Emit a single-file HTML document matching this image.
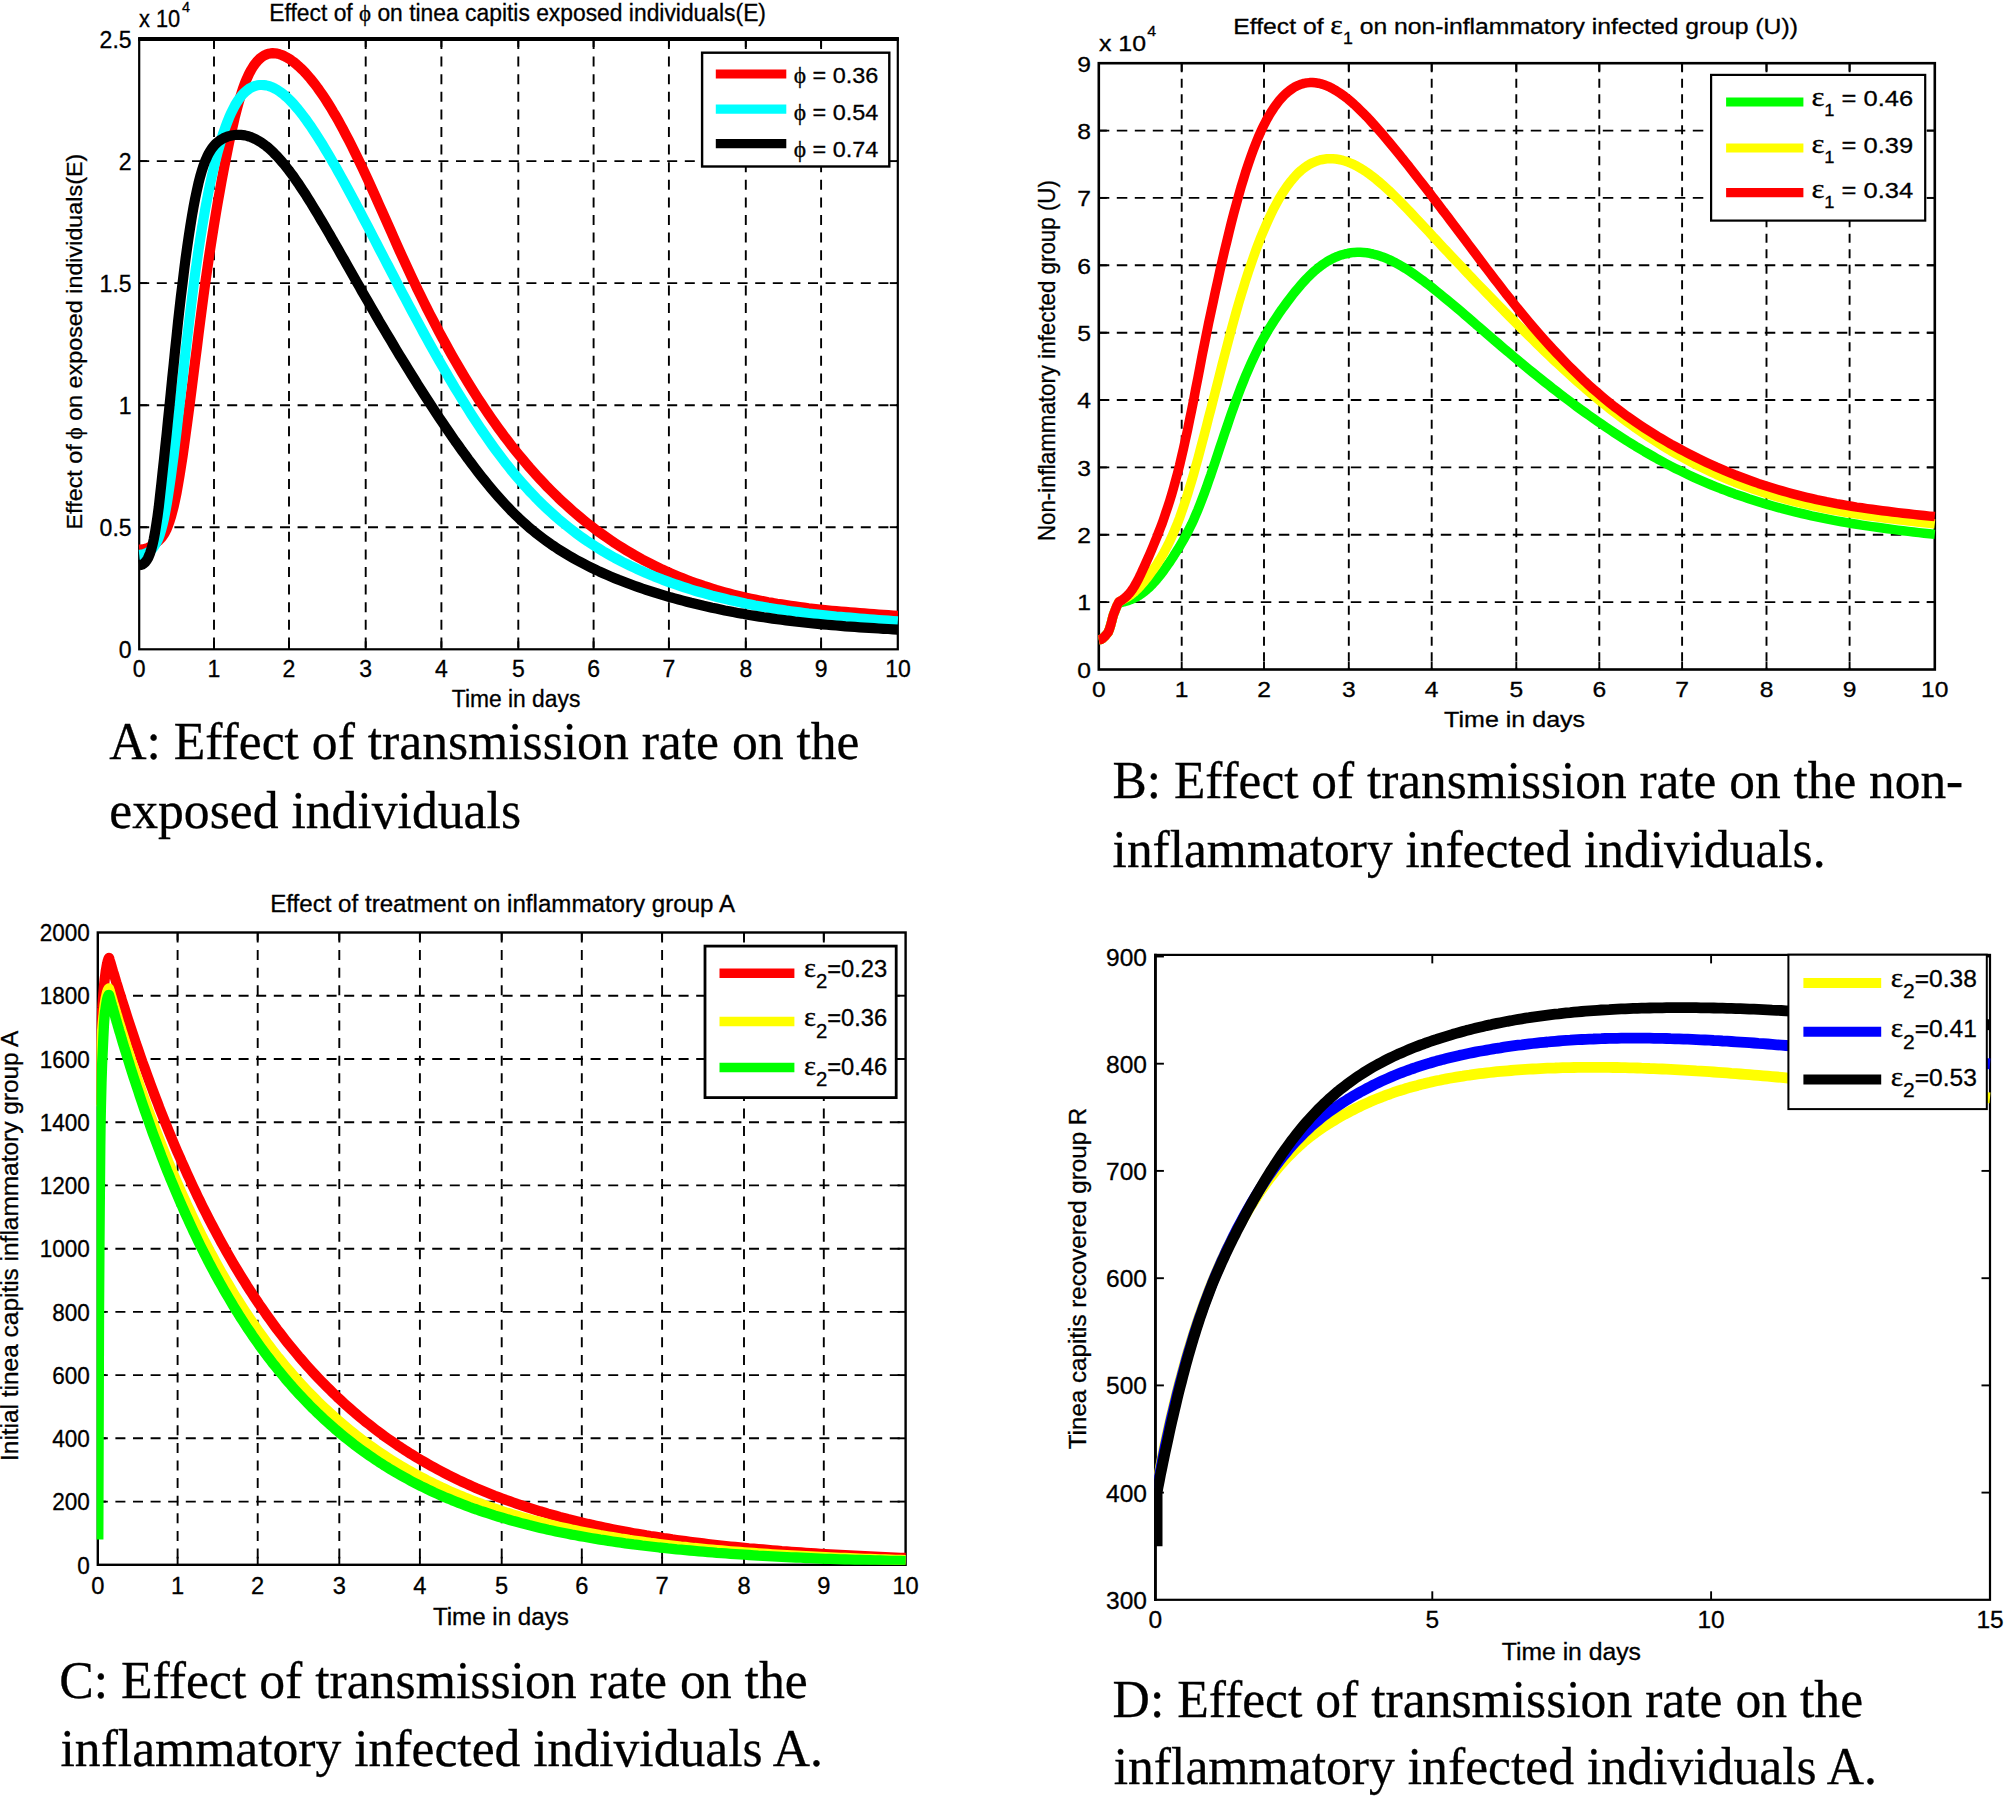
<!DOCTYPE html>
<html lang="en"><head><meta charset="utf-8"><title>Effect of transmission rate - tinea capitis model</title>
<style>html,body{margin:0;padding:0;background:#fff}svg{display:block}text{fill:#000;stroke:#000;stroke-width:.3px}</style></head>
<body>
<svg width="2004" height="1796" viewBox="0 0 2004 1796">
<rect width="2004" height="1796" fill="#fff"/>
<g stroke="#000" stroke-width="1.9" fill="none">
<line x1="214.0" y1="39.0" x2="214.0" y2="649.3" stroke-dasharray="10 7.6"/>
<line x1="289.0" y1="39.0" x2="289.0" y2="649.3" stroke-dasharray="10 7.6"/>
<line x1="365.7" y1="39.0" x2="365.7" y2="649.3" stroke-dasharray="10 7.6"/>
<line x1="441.4" y1="39.0" x2="441.4" y2="649.3" stroke-dasharray="10 7.6"/>
<line x1="518.3" y1="39.0" x2="518.3" y2="649.3" stroke-dasharray="10 7.6"/>
<line x1="593.6" y1="39.0" x2="593.6" y2="649.3" stroke-dasharray="10 7.6"/>
<line x1="668.9" y1="39.0" x2="668.9" y2="649.3" stroke-dasharray="10 7.6"/>
<line x1="745.8" y1="39.0" x2="745.8" y2="649.3" stroke-dasharray="10 7.6"/>
<line x1="821.1" y1="39.0" x2="821.1" y2="649.3" stroke-dasharray="10 7.6"/>
<line x1="139.2" y1="527.2" x2="897.8" y2="527.2" stroke-dasharray="10 7.6"/>
<line x1="139.2" y1="405.2" x2="897.8" y2="405.2" stroke-dasharray="10 7.6"/>
<line x1="139.2" y1="283.1" x2="897.8" y2="283.1" stroke-dasharray="10 7.6"/>
<line x1="139.2" y1="161.1" x2="897.8" y2="161.1" stroke-dasharray="10 7.6"/>
</g>
<g stroke="#000" stroke-width="1.9" fill="none">
<line x1="214.0" y1="649.3" x2="214.0" y2="641.3"/><line x1="214.0" y1="39.0" x2="214.0" y2="47.0"/>
<line x1="289.0" y1="649.3" x2="289.0" y2="641.3"/><line x1="289.0" y1="39.0" x2="289.0" y2="47.0"/>
<line x1="365.7" y1="649.3" x2="365.7" y2="641.3"/><line x1="365.7" y1="39.0" x2="365.7" y2="47.0"/>
<line x1="441.4" y1="649.3" x2="441.4" y2="641.3"/><line x1="441.4" y1="39.0" x2="441.4" y2="47.0"/>
<line x1="518.3" y1="649.3" x2="518.3" y2="641.3"/><line x1="518.3" y1="39.0" x2="518.3" y2="47.0"/>
<line x1="593.6" y1="649.3" x2="593.6" y2="641.3"/><line x1="593.6" y1="39.0" x2="593.6" y2="47.0"/>
<line x1="668.9" y1="649.3" x2="668.9" y2="641.3"/><line x1="668.9" y1="39.0" x2="668.9" y2="47.0"/>
<line x1="745.8" y1="649.3" x2="745.8" y2="641.3"/><line x1="745.8" y1="39.0" x2="745.8" y2="47.0"/>
<line x1="821.1" y1="649.3" x2="821.1" y2="641.3"/><line x1="821.1" y1="39.0" x2="821.1" y2="47.0"/>
<line x1="139.2" y1="527.2" x2="147.2" y2="527.2"/><line x1="897.8" y1="527.2" x2="889.8" y2="527.2"/>
<line x1="139.2" y1="405.2" x2="147.2" y2="405.2"/><line x1="897.8" y1="405.2" x2="889.8" y2="405.2"/>
<line x1="139.2" y1="283.1" x2="147.2" y2="283.1"/><line x1="897.8" y1="283.1" x2="889.8" y2="283.1"/>
<line x1="139.2" y1="161.1" x2="147.2" y2="161.1"/><line x1="897.8" y1="161.1" x2="889.8" y2="161.1"/>
</g>
<rect x="139.2" y="39.0" width="758.6" height="610.3" fill="none" stroke="#000" stroke-width="2.2"/>
<line x1="138.1" y1="39.0" x2="898.9" y2="39.0" stroke="#000" stroke-width="4.0"/>
<clipPath id="clip1"><rect x="138.2" y="39.0" width="760.6" height="610.3"/></clipPath>
<g clip-path="url(#clip1)" fill="none" stroke-width="10.2" stroke-linejoin="round" stroke-linecap="butt">
<path d="M139.2 549.6 L140.2 549.5 L141.3 549.5 L142.3 549.4 L143.4 549.2 L144.5 549.0 L145.6 548.8 L146.7 548.4 L147.9 548.0 L149.0 547.5 L150.2 546.9 L151.4 546.2 L152.6 545.4 L153.8 544.6 L155.0 543.6 L156.2 542.6 L157.5 541.6 L158.8 540.4 L160.0 539.2 L161.3 537.8 L162.6 536.1 L164.0 534.1 L165.3 531.7 L166.7 528.9 L168.0 525.6 L169.4 521.8 L170.8 517.3 L172.2 512.2 L173.7 506.5 L175.1 499.9 L176.6 492.6 L178.0 484.6 L179.5 475.9 L181.0 466.4 L182.6 456.3 L184.1 445.6 L185.6 434.5 L187.2 422.8 L188.8 410.9 L190.4 398.6 L192.0 386.1 L193.6 373.4 L195.2 360.5 L196.9 347.5 L198.5 334.3 L200.2 321.1 L201.9 308.0 L203.6 295.1 L205.3 282.6 L207.1 270.3 L208.8 258.3 L210.6 246.5 L212.4 235.0 L214.2 223.8 L216.0 212.8 L217.8 202.1 L219.7 191.6 L221.5 181.4 L223.4 171.3 L225.3 161.5 L227.2 152.0 L229.1 142.6 L231.0 133.6 L233.0 125.0 L234.9 116.7 L236.9 108.9 L238.9 101.7 L240.9 95.0 L242.9 88.8 L244.9 83.3 L247.0 78.3 L249.0 73.9 L251.1 70.0 L253.2 66.5 L255.3 63.6 L257.4 61.0 L259.6 58.8 L261.7 57.1 L263.9 55.6 L266.1 54.6 L268.3 53.8 L270.5 53.4 L272.7 53.2 L274.9 53.3 L277.2 53.6 L279.4 54.2 L281.7 55.0 L284.0 56.0 L286.3 57.2 L288.7 58.6 L291.0 60.1 L293.4 61.8 L295.7 63.7 L298.1 65.8 L300.5 68.0 L302.9 70.3 L305.4 72.9 L307.8 75.6 L310.3 78.5 L312.7 81.5 L315.2 84.7 L317.7 88.0 L320.2 91.6 L322.8 95.2 L325.3 99.1 L327.9 103.1 L330.5 107.2 L333.0 111.6 L335.7 116.0 L338.3 120.6 L340.9 125.4 L343.6 130.3 L346.2 135.3 L348.9 140.4 L351.6 145.7 L354.3 151.2 L357.0 156.7 L359.8 162.4 L362.5 168.2 L365.3 174.2 L368.1 180.2 L370.9 186.4 L373.7 192.6 L376.5 198.9 L379.3 205.3 L382.2 211.7 L385.1 218.2 L388.0 224.7 L390.9 231.2 L393.8 237.8 L396.7 244.3 L399.6 250.9 L402.6 257.4 L405.6 263.9 L408.6 270.3 L411.6 276.8 L414.6 283.1 L417.6 289.5 L420.7 295.7 L423.7 301.9 L426.8 308.1 L429.9 314.2 L433.0 320.2 L436.1 326.2 L439.2 332.1 L442.4 338.0 L445.6 343.8 L448.7 349.5 L451.9 355.2 L455.1 360.8 L458.4 366.4 L461.6 371.9 L464.9 377.3 L468.1 382.7 L471.4 388.0 L474.7 393.2 L478.0 398.4 L481.3 403.4 L484.7 408.5 L488.0 413.4 L491.4 418.3 L494.8 423.2 L498.2 427.9 L501.6 432.6 L505.0 437.2 L508.5 441.7 L511.9 446.2 L515.4 450.6 L518.9 454.9 L522.4 459.1 L525.9 463.3 L529.4 467.4 L533.0 471.4 L536.5 475.4 L540.1 479.3 L543.7 483.1 L547.3 486.9 L550.9 490.5 L554.6 494.1 L558.2 497.7 L561.9 501.2 L565.6 504.6 L569.3 507.9 L573.0 511.2 L576.7 514.4 L580.4 517.5 L584.2 520.6 L587.9 523.6 L591.7 526.6 L595.5 529.5 L599.3 532.3 L603.2 535.0 L607.0 537.7 L610.9 540.4 L614.7 543.0 L618.6 545.5 L622.5 547.9 L626.4 550.3 L630.4 552.7 L634.3 555.0 L638.3 557.2 L642.2 559.4 L646.2 561.5 L650.2 563.6 L654.2 565.6 L658.3 567.6 L662.3 569.5 L666.4 571.3 L670.4 573.2 L674.5 574.9 L678.6 576.6 L682.8 578.3 L686.9 579.9 L691.0 581.5 L695.2 583.0 L699.4 584.4 L703.6 585.9 L707.8 587.2 L712.0 588.6 L716.2 589.9 L720.5 591.1 L724.8 592.3 L729.1 593.5 L733.3 594.6 L737.7 595.7 L742.0 596.7 L746.3 597.7 L750.7 598.7 L755.0 599.6 L759.4 600.5 L763.8 601.3 L768.2 602.2 L772.7 602.9 L777.1 603.7 L781.6 604.4 L786.0 605.1 L790.5 605.8 L795.0 606.4 L799.6 607.0 L804.1 607.6 L808.6 608.2 L813.2 608.7 L817.8 609.2 L822.4 609.7 L827.0 610.2 L831.6 610.7 L836.2 611.1 L840.9 611.5 L845.5 611.9 L850.2 612.3 L854.9 612.7 L859.6 613.1 L864.3 613.4 L869.1 613.8 L873.8 614.1 L878.6 614.5 L883.4 614.8 L888.2 615.1 L893.0 615.5 L897.8 615.8" stroke="#ff0000"/>
<path d="M139.2 554.8 L140.2 554.7 L141.3 554.6 L142.3 554.4 L143.4 554.2 L144.5 553.9 L145.6 553.5 L146.7 553.1 L147.9 552.4 L149.0 551.7 L150.2 550.8 L151.4 549.7 L152.6 548.4 L153.8 546.8 L155.0 545.0 L156.2 543.0 L157.5 540.5 L158.8 537.4 L160.0 533.8 L161.3 529.5 L162.6 524.4 L164.0 518.5 L165.3 511.8 L166.7 504.2 L168.0 495.9 L169.4 486.8 L170.8 477.0 L172.2 466.4 L173.7 455.1 L175.1 443.2 L176.6 430.8 L178.0 418.0 L179.5 405.0 L181.0 391.7 L182.6 378.3 L184.1 364.8 L185.6 351.3 L187.2 337.8 L188.8 324.4 L190.4 311.1 L192.0 298.1 L193.6 285.4 L195.2 273.2 L196.9 261.4 L198.5 250.0 L200.2 239.0 L201.9 228.4 L203.6 218.3 L205.3 208.5 L207.1 199.2 L208.8 190.3 L210.6 181.7 L212.4 173.6 L214.2 165.9 L216.0 158.5 L217.8 151.5 L219.7 145.0 L221.5 138.8 L223.4 132.9 L225.3 127.5 L227.2 122.4 L229.1 117.6 L231.0 113.2 L233.0 109.2 L234.9 105.5 L236.9 102.2 L238.9 99.2 L240.9 96.5 L242.9 94.1 L244.9 92.1 L247.0 90.3 L249.0 88.8 L251.1 87.6 L253.2 86.6 L255.3 85.9 L257.4 85.3 L259.6 85.0 L261.7 85.0 L263.9 85.1 L266.1 85.4 L268.3 85.9 L270.5 86.6 L272.7 87.5 L274.9 88.6 L277.2 89.9 L279.4 91.4 L281.7 93.0 L284.0 94.8 L286.3 96.8 L288.7 99.0 L291.0 101.4 L293.4 103.9 L295.7 106.6 L298.1 109.4 L300.5 112.4 L302.9 115.5 L305.4 118.8 L307.8 122.2 L310.3 125.7 L312.7 129.3 L315.2 133.1 L317.7 137.0 L320.2 141.0 L322.8 145.1 L325.3 149.3 L327.9 153.6 L330.5 158.0 L333.0 162.4 L335.7 167.0 L338.3 171.7 L340.9 176.4 L343.6 181.2 L346.2 186.0 L348.9 191.0 L351.6 196.0 L354.3 201.0 L357.0 206.2 L359.8 211.3 L362.5 216.6 L365.3 221.9 L368.1 227.2 L370.9 232.6 L373.7 238.0 L376.5 243.4 L379.3 248.9 L382.2 254.4 L385.1 260.0 L388.0 265.5 L390.9 271.1 L393.8 276.7 L396.7 282.3 L399.6 287.9 L402.6 293.6 L405.6 299.2 L408.6 304.8 L411.6 310.5 L414.6 316.1 L417.6 321.7 L420.7 327.4 L423.7 333.0 L426.8 338.6 L429.9 344.2 L433.0 349.7 L436.1 355.3 L439.2 360.8 L442.4 366.3 L445.6 371.8 L448.7 377.3 L451.9 382.7 L455.1 388.1 L458.4 393.4 L461.6 398.7 L464.9 404.0 L468.1 409.2 L471.4 414.4 L474.7 419.5 L478.0 424.5 L481.3 429.5 L484.7 434.4 L488.0 439.2 L491.4 444.0 L494.8 448.7 L498.2 453.3 L501.6 457.8 L505.0 462.3 L508.5 466.7 L511.9 471.0 L515.4 475.2 L518.9 479.3 L522.4 483.3 L525.9 487.2 L529.4 491.1 L533.0 494.8 L536.5 498.5 L540.1 502.1 L543.7 505.6 L547.3 509.0 L550.9 512.3 L554.6 515.6 L558.2 518.8 L561.9 521.9 L565.6 524.9 L569.3 527.9 L573.0 530.8 L576.7 533.6 L580.4 536.3 L584.2 539.0 L587.9 541.6 L591.7 544.1 L595.5 546.5 L599.3 548.9 L603.2 551.3 L607.0 553.5 L610.9 555.7 L614.7 557.9 L618.6 559.9 L622.5 562.0 L626.4 563.9 L630.4 565.9 L634.3 567.7 L638.3 569.6 L642.2 571.3 L646.2 573.1 L650.2 574.7 L654.2 576.4 L658.3 578.0 L662.3 579.6 L666.4 581.1 L670.4 582.6 L674.5 584.0 L678.6 585.4 L682.8 586.8 L686.9 588.2 L691.0 589.5 L695.2 590.8 L699.4 592.0 L703.6 593.2 L707.8 594.4 L712.0 595.6 L716.2 596.7 L720.5 597.8 L724.8 598.8 L729.1 599.9 L733.3 600.8 L737.7 601.8 L742.0 602.7 L746.3 603.7 L750.7 604.5 L755.0 605.4 L759.4 606.2 L763.8 607.0 L768.2 607.8 L772.7 608.5 L777.1 609.2 L781.6 609.9 L786.0 610.6 L790.5 611.2 L795.0 611.8 L799.6 612.4 L804.1 613.0 L808.6 613.6 L813.2 614.1 L817.8 614.6 L822.4 615.1 L827.0 615.6 L831.6 616.0 L836.2 616.5 L840.9 616.9 L845.5 617.3 L850.2 617.7 L854.9 618.1 L859.6 618.5 L864.3 618.9 L869.1 619.3 L873.8 619.6 L878.6 620.0 L883.4 620.3 L888.2 620.7 L893.0 621.0 L897.8 621.3" stroke="#00ffff"/>
<path d="M139.2 565.3 L140.2 565.1 L141.3 564.8 L142.3 564.4 L143.4 563.8 L144.5 562.9 L145.6 561.8 L146.7 560.3 L147.9 558.4 L149.0 555.9 L150.2 552.8 L151.4 549.0 L152.6 544.5 L153.8 539.0 L155.0 532.5 L156.2 525.0 L157.5 516.4 L158.8 506.7 L160.0 495.9 L161.3 484.2 L162.6 472.0 L164.0 459.3 L165.3 446.5 L166.7 433.5 L168.0 420.2 L169.4 406.7 L170.8 392.8 L172.2 378.6 L173.7 364.3 L175.1 350.0 L176.6 336.0 L178.0 322.2 L179.5 308.7 L181.0 295.6 L182.6 282.8 L184.1 270.4 L185.6 258.5 L187.2 247.0 L188.8 236.0 L190.4 225.6 L192.0 215.8 L193.6 206.7 L195.2 198.2 L196.9 190.3 L198.5 183.1 L200.2 176.5 L201.9 170.6 L203.6 165.4 L205.3 160.8 L207.1 156.8 L208.8 153.3 L210.6 150.3 L212.4 147.7 L214.2 145.5 L216.0 143.6 L217.8 142.0 L219.7 140.6 L221.5 139.4 L223.4 138.3 L225.3 137.5 L227.2 136.7 L229.1 136.1 L231.0 135.6 L233.0 135.3 L234.9 135.0 L236.9 134.8 L238.9 134.8 L240.9 134.9 L242.9 135.1 L244.9 135.4 L247.0 135.9 L249.0 136.5 L251.1 137.2 L253.2 138.1 L255.3 139.1 L257.4 140.2 L259.6 141.4 L261.7 142.8 L263.9 144.4 L266.1 146.0 L268.3 147.8 L270.5 149.8 L272.7 151.8 L274.9 154.1 L277.2 156.4 L279.4 158.9 L281.7 161.5 L284.0 164.2 L286.3 167.1 L288.7 170.1 L291.0 173.2 L293.4 176.4 L295.7 179.8 L298.1 183.2 L300.5 186.8 L302.9 190.5 L305.4 194.2 L307.8 198.1 L310.3 202.0 L312.7 206.0 L315.2 210.1 L317.7 214.2 L320.2 218.5 L322.8 222.7 L325.3 227.1 L327.9 231.5 L330.5 235.9 L333.0 240.4 L335.7 245.0 L338.3 249.6 L340.9 254.2 L343.6 258.8 L346.2 263.5 L348.9 268.2 L351.6 273.0 L354.3 277.8 L357.0 282.5 L359.8 287.3 L362.5 292.2 L365.3 297.0 L368.1 301.8 L370.9 306.7 L373.7 311.5 L376.5 316.4 L379.3 321.3 L382.2 326.1 L385.1 331.0 L388.0 335.9 L390.9 340.7 L393.8 345.6 L396.7 350.5 L399.6 355.3 L402.6 360.2 L405.6 365.0 L408.6 369.9 L411.6 374.7 L414.6 379.5 L417.6 384.4 L420.7 389.2 L423.7 393.9 L426.8 398.7 L429.9 403.5 L433.0 408.2 L436.1 413.0 L439.2 417.7 L442.4 422.4 L445.6 427.1 L448.7 431.7 L451.9 436.3 L455.1 441.0 L458.4 445.5 L461.6 450.1 L464.9 454.5 L468.1 459.0 L471.4 463.4 L474.7 467.8 L478.0 472.1 L481.3 476.3 L484.7 480.5 L488.0 484.6 L491.4 488.7 L494.8 492.7 L498.2 496.6 L501.6 500.4 L505.0 504.1 L508.5 507.8 L511.9 511.4 L515.4 514.8 L518.9 518.2 L522.4 521.4 L525.9 524.6 L529.4 527.7 L533.0 530.6 L536.5 533.5 L540.1 536.3 L543.7 539.0 L547.3 541.6 L550.9 544.2 L554.6 546.6 L558.2 549.1 L561.9 551.4 L565.6 553.7 L569.3 555.9 L573.0 558.0 L576.7 560.1 L580.4 562.1 L584.2 564.1 L587.9 566.0 L591.7 567.9 L595.5 569.7 L599.3 571.5 L603.2 573.2 L607.0 574.9 L610.9 576.6 L614.7 578.2 L618.6 579.8 L622.5 581.3 L626.4 582.8 L630.4 584.3 L634.3 585.7 L638.3 587.1 L642.2 588.5 L646.2 589.8 L650.2 591.1 L654.2 592.4 L658.3 593.7 L662.3 594.9 L666.4 596.1 L670.4 597.3 L674.5 598.4 L678.6 599.5 L682.8 600.6 L686.9 601.7 L691.0 602.8 L695.2 603.8 L699.4 604.8 L703.6 605.8 L707.8 606.7 L712.0 607.7 L716.2 608.6 L720.5 609.5 L724.8 610.4 L729.1 611.2 L733.3 612.1 L737.7 612.9 L742.0 613.6 L746.3 614.4 L750.7 615.2 L755.0 615.9 L759.4 616.6 L763.8 617.3 L768.2 617.9 L772.7 618.6 L777.1 619.2 L781.6 619.8 L786.0 620.4 L790.5 620.9 L795.0 621.5 L799.6 622.0 L804.1 622.5 L808.6 623.0 L813.2 623.5 L817.8 623.9 L822.4 624.3 L827.0 624.8 L831.6 625.2 L836.2 625.5 L840.9 625.9 L845.5 626.3 L850.2 626.6 L854.9 626.9 L859.6 627.3 L864.3 627.6 L869.1 627.9 L873.8 628.2 L878.6 628.5 L883.4 628.8 L888.2 629.0 L893.0 629.3 L897.8 629.6" stroke="#000000"/>
</g>
<text transform="translate(139.2 677.1) scale(1.0 1)" text-anchor="middle" font-family='"Liberation Sans", Arial, Helvetica, sans-serif' font-size="23">0</text>
<text transform="translate(214.0 677.1) scale(1.0 1)" text-anchor="middle" font-family='"Liberation Sans", Arial, Helvetica, sans-serif' font-size="23">1</text>
<text transform="translate(289.0 677.1) scale(1.0 1)" text-anchor="middle" font-family='"Liberation Sans", Arial, Helvetica, sans-serif' font-size="23">2</text>
<text transform="translate(365.7 677.1) scale(1.0 1)" text-anchor="middle" font-family='"Liberation Sans", Arial, Helvetica, sans-serif' font-size="23">3</text>
<text transform="translate(441.4 677.1) scale(1.0 1)" text-anchor="middle" font-family='"Liberation Sans", Arial, Helvetica, sans-serif' font-size="23">4</text>
<text transform="translate(518.3 677.1) scale(1.0 1)" text-anchor="middle" font-family='"Liberation Sans", Arial, Helvetica, sans-serif' font-size="23">5</text>
<text transform="translate(593.6 677.1) scale(1.0 1)" text-anchor="middle" font-family='"Liberation Sans", Arial, Helvetica, sans-serif' font-size="23">6</text>
<text transform="translate(668.9 677.1) scale(1.0 1)" text-anchor="middle" font-family='"Liberation Sans", Arial, Helvetica, sans-serif' font-size="23">7</text>
<text transform="translate(745.8 677.1) scale(1.0 1)" text-anchor="middle" font-family='"Liberation Sans", Arial, Helvetica, sans-serif' font-size="23">8</text>
<text transform="translate(821.1 677.1) scale(1.0 1)" text-anchor="middle" font-family='"Liberation Sans", Arial, Helvetica, sans-serif' font-size="23">9</text>
<text transform="translate(898.0 677.1) scale(1.0 1)" text-anchor="middle" font-family='"Liberation Sans", Arial, Helvetica, sans-serif' font-size="23">10</text>
<text transform="translate(131.6 658.0) scale(1.0 1)" text-anchor="end" font-family='"Liberation Sans", Arial, Helvetica, sans-serif' font-size="23">0</text>
<text transform="translate(131.6 535.9) scale(1.0 1)" text-anchor="end" font-family='"Liberation Sans", Arial, Helvetica, sans-serif' font-size="23">0.5</text>
<text transform="translate(131.6 413.9) scale(1.0 1)" text-anchor="end" font-family='"Liberation Sans", Arial, Helvetica, sans-serif' font-size="23">1</text>
<text transform="translate(131.6 291.8) scale(1.0 1)" text-anchor="end" font-family='"Liberation Sans", Arial, Helvetica, sans-serif' font-size="23">1.5</text>
<text transform="translate(131.6 169.8) scale(1.0 1)" text-anchor="end" font-family='"Liberation Sans", Arial, Helvetica, sans-serif' font-size="23">2</text>
<text transform="translate(131.6 47.7) scale(1.0 1)" text-anchor="end" font-family='"Liberation Sans", Arial, Helvetica, sans-serif' font-size="23">2.5</text>
<text x="269.3" y="20.6" font-family='"Liberation Sans", Arial, Helvetica, sans-serif' font-size="23" textLength="496.7" lengthAdjust="spacingAndGlyphs">Effect of <tspan font-family='"Liberation Serif", "Times New Roman", serif'>&#981;</tspan> on tinea capitis exposed individuals(E)</text>
<text x="139.0" y="26.9" font-family='"Liberation Sans", Arial, Helvetica, sans-serif' font-size="23" textLength="41.2" lengthAdjust="spacingAndGlyphs">x 10</text>
<text x="181.9" y="12.0" font-family='"Liberation Sans", Arial, Helvetica, sans-serif' font-size="14.5">4</text>
<text x="451.8" y="706.7" font-family='"Liberation Sans", Arial, Helvetica, sans-serif' font-size="23" textLength="128.5" lengthAdjust="spacingAndGlyphs">Time in days</text>
<text transform="translate(82.0 341.6) rotate(-90)" font-family='"Liberation Sans", Arial, Helvetica, sans-serif' font-size="22.8" text-anchor="middle" textLength="375.7" lengthAdjust="spacingAndGlyphs">Effect of&#8201;<tspan font-family='"Liberation Serif", "Times New Roman", serif'>&#981;</tspan> on exposed individuals(E)</text>
<rect x="702.1" y="52.7" width="187.2" height="113.8" fill="#fff" stroke="#000" stroke-width="2.4"/>
<line x1="715.8" y1="74.0" x2="786.3" y2="74.0" stroke="#ff0000" stroke-width="9.2"/>
<text x="793.7" y="83.2" font-family='"Liberation Sans", Arial, Helvetica, sans-serif' font-size="22.5" textLength="84.6" lengthAdjust="spacingAndGlyphs"><tspan font-family='"Liberation Serif", "Times New Roman", serif'>&#981;</tspan> = 0.36</text>
<line x1="715.8" y1="109.2" x2="786.3" y2="109.2" stroke="#00ffff" stroke-width="9.2"/>
<text x="793.7" y="120.0" font-family='"Liberation Sans", Arial, Helvetica, sans-serif' font-size="22.5" textLength="84.6" lengthAdjust="spacingAndGlyphs"><tspan font-family='"Liberation Serif", "Times New Roman", serif'>&#981;</tspan> = 0.54</text>
<line x1="715.8" y1="143.6" x2="786.3" y2="143.6" stroke="#000000" stroke-width="9.2"/>
<text x="793.7" y="156.8" font-family='"Liberation Sans", Arial, Helvetica, sans-serif' font-size="22.5" textLength="84.6" lengthAdjust="spacingAndGlyphs"><tspan font-family='"Liberation Serif", "Times New Roman", serif'>&#981;</tspan> = 0.74</text>
<g stroke="#000" stroke-width="1.9" fill="none">
<line x1="1181.7" y1="63.2" x2="1181.7" y2="669.5" stroke-dasharray="9 6.5"/>
<line x1="1264.0" y1="63.2" x2="1264.0" y2="669.5" stroke-dasharray="9 6.5"/>
<line x1="1348.8" y1="63.2" x2="1348.8" y2="669.5" stroke-dasharray="9 6.5"/>
<line x1="1431.7" y1="63.2" x2="1431.7" y2="669.5" stroke-dasharray="9 6.5"/>
<line x1="1516.3" y1="63.2" x2="1516.3" y2="669.5" stroke-dasharray="9 6.5"/>
<line x1="1599.3" y1="63.2" x2="1599.3" y2="669.5" stroke-dasharray="9 6.5"/>
<line x1="1682.1" y1="63.2" x2="1682.1" y2="669.5" stroke-dasharray="9 6.5"/>
<line x1="1766.5" y1="63.2" x2="1766.5" y2="669.5" stroke-dasharray="9 6.5"/>
<line x1="1849.6" y1="63.2" x2="1849.6" y2="669.5" stroke-dasharray="9 6.5"/>
<line x1="1098.8" y1="602.1" x2="1934.8" y2="602.1" stroke-dasharray="10.5 7.5"/>
<line x1="1098.8" y1="534.8" x2="1934.8" y2="534.8" stroke-dasharray="10.5 7.5"/>
<line x1="1098.8" y1="467.4" x2="1934.8" y2="467.4" stroke-dasharray="10.5 7.5"/>
<line x1="1098.8" y1="400.0" x2="1934.8" y2="400.0" stroke-dasharray="10.5 7.5"/>
<line x1="1098.8" y1="332.7" x2="1934.8" y2="332.7" stroke-dasharray="10.5 7.5"/>
<line x1="1098.8" y1="265.3" x2="1934.8" y2="265.3" stroke-dasharray="10.5 7.5"/>
<line x1="1098.8" y1="197.9" x2="1934.8" y2="197.9" stroke-dasharray="10.5 7.5"/>
<line x1="1098.8" y1="130.6" x2="1934.8" y2="130.6" stroke-dasharray="10.5 7.5"/>
</g>
<g stroke="#000" stroke-width="1.9" fill="none">
<line x1="1181.7" y1="669.5" x2="1181.7" y2="661.5"/><line x1="1181.7" y1="63.2" x2="1181.7" y2="71.2"/>
<line x1="1264.0" y1="669.5" x2="1264.0" y2="661.5"/><line x1="1264.0" y1="63.2" x2="1264.0" y2="71.2"/>
<line x1="1348.8" y1="669.5" x2="1348.8" y2="661.5"/><line x1="1348.8" y1="63.2" x2="1348.8" y2="71.2"/>
<line x1="1431.7" y1="669.5" x2="1431.7" y2="661.5"/><line x1="1431.7" y1="63.2" x2="1431.7" y2="71.2"/>
<line x1="1516.3" y1="669.5" x2="1516.3" y2="661.5"/><line x1="1516.3" y1="63.2" x2="1516.3" y2="71.2"/>
<line x1="1599.3" y1="669.5" x2="1599.3" y2="661.5"/><line x1="1599.3" y1="63.2" x2="1599.3" y2="71.2"/>
<line x1="1682.1" y1="669.5" x2="1682.1" y2="661.5"/><line x1="1682.1" y1="63.2" x2="1682.1" y2="71.2"/>
<line x1="1766.5" y1="669.5" x2="1766.5" y2="661.5"/><line x1="1766.5" y1="63.2" x2="1766.5" y2="71.2"/>
<line x1="1849.6" y1="669.5" x2="1849.6" y2="661.5"/><line x1="1849.6" y1="63.2" x2="1849.6" y2="71.2"/>
<line x1="1098.8" y1="602.1" x2="1106.8" y2="602.1"/><line x1="1934.8" y1="602.1" x2="1926.8" y2="602.1"/>
<line x1="1098.8" y1="534.8" x2="1106.8" y2="534.8"/><line x1="1934.8" y1="534.8" x2="1926.8" y2="534.8"/>
<line x1="1098.8" y1="467.4" x2="1106.8" y2="467.4"/><line x1="1934.8" y1="467.4" x2="1926.8" y2="467.4"/>
<line x1="1098.8" y1="400.0" x2="1106.8" y2="400.0"/><line x1="1934.8" y1="400.0" x2="1926.8" y2="400.0"/>
<line x1="1098.8" y1="332.7" x2="1106.8" y2="332.7"/><line x1="1934.8" y1="332.7" x2="1926.8" y2="332.7"/>
<line x1="1098.8" y1="265.3" x2="1106.8" y2="265.3"/><line x1="1934.8" y1="265.3" x2="1926.8" y2="265.3"/>
<line x1="1098.8" y1="197.9" x2="1106.8" y2="197.9"/><line x1="1934.8" y1="197.9" x2="1926.8" y2="197.9"/>
<line x1="1098.8" y1="130.6" x2="1106.8" y2="130.6"/><line x1="1934.8" y1="130.6" x2="1926.8" y2="130.6"/>
</g>
<rect x="1098.8" y="63.2" width="836.0" height="606.3" fill="none" stroke="#000" stroke-width="2.6"/>
<clipPath id="clip2"><rect x="1097.8" y="63.2" width="839.0" height="606.3"/></clipPath>
<g clip-path="url(#clip2)" fill="none" stroke-width="9.5" stroke-linejoin="round" stroke-linecap="butt">
<path d="M1098.8 639.9 L1099.9 639.7 L1099.9 639.7 L1100.9 639.4 L1101.1 639.3 L1102.0 638.8 L1102.3 638.6 L1103.1 638.0 L1103.4 637.6 L1104.2 637.0 L1104.7 636.5 L1105.2 635.9 L1105.9 635.1 L1106.3 634.6 L1107.1 633.6 L1107.4 633.3 L1108.4 631.9 L1108.4 631.7 L1109.5 629.0 L1109.6 628.7 L1110.6 625.4 L1110.9 624.2 L1111.7 621.3 L1112.2 619.2 L1112.7 617.3 L1113.5 614.6 L1113.8 613.8 L1114.9 611.1 L1114.9 611.1 L1115.9 608.5 L1116.2 607.9 L1117.0 606.1 L1117.6 605.0 L1118.1 604.1 L1118.9 603.1 L1119.2 602.9 L1120.2 602.7 L1120.3 602.7 L1121.3 602.4 L1121.8 602.3 L1122.4 602.2 L1123.2 602.0 L1123.5 601.9 L1124.5 601.6 L1124.6 601.6 L1125.6 601.3 L1126.1 601.2 L1126.7 601.0 L1127.6 600.7 L1127.7 600.6 L1128.8 600.3 L1129.1 600.2 L1129.9 599.9 L1130.6 599.6 L1131.0 599.5 L1132.0 599.0 L1132.1 599.0 L1133.1 598.6 L1133.6 598.3 L1134.2 598.1 L1135.2 597.6 L1135.2 597.5 L1136.3 597.0 L1136.8 596.7 L1137.4 596.4 L1138.4 595.8 L1138.5 595.7 L1139.5 595.1 L1140.0 594.8 L1140.6 594.4 L1141.6 593.7 L1143.2 592.5 L1144.9 591.2 L1146.6 589.8 L1148.3 588.3 L1150.0 586.7 L1151.7 585.0 L1153.4 583.1 L1155.2 581.2 L1157.0 579.1 L1158.7 577.0 L1160.5 574.7 L1162.4 572.3 L1164.2 569.9 L1166.0 567.3 L1167.9 564.6 L1169.8 561.9 L1171.7 559.0 L1173.6 556.1 L1175.5 553.0 L1177.5 549.9 L1179.5 546.7 L1181.4 543.3 L1183.4 539.9 L1185.4 536.2 L1187.5 532.4 L1189.5 528.4 L1191.6 524.2 L1193.7 519.7 L1195.7 514.9 L1197.9 509.8 L1200.0 504.5 L1202.1 499.0 L1204.3 493.2 L1206.5 487.2 L1208.6 481.0 L1210.9 474.6 L1213.1 468.0 L1215.3 461.4 L1217.6 454.6 L1219.8 447.8 L1222.1 440.9 L1224.4 434.0 L1226.8 427.1 L1229.1 420.3 L1231.4 413.5 L1233.8 406.8 L1236.2 400.1 L1238.6 393.6 L1241.0 387.3 L1243.5 381.1 L1245.9 375.1 L1248.4 369.3 L1250.9 363.6 L1253.4 358.2 L1255.9 353.0 L1258.4 347.9 L1260.9 343.0 L1263.5 338.4 L1266.1 333.8 L1268.7 329.4 L1271.3 325.2 L1273.9 321.1 L1276.6 317.1 L1279.2 313.2 L1281.9 309.3 L1284.6 305.6 L1287.3 301.9 L1290.0 298.3 L1292.8 294.7 L1295.5 291.3 L1298.3 287.9 L1301.1 284.6 L1303.9 281.5 L1306.7 278.5 L1309.6 275.6 L1312.4 272.9 L1315.3 270.3 L1318.2 267.9 L1321.1 265.7 L1324.0 263.6 L1326.9 261.7 L1329.9 260.0 L1332.9 258.4 L1335.9 257.0 L1338.9 255.8 L1341.9 254.8 L1344.9 254.0 L1348.0 253.3 L1351.0 252.8 L1354.1 252.4 L1357.2 252.3 L1360.3 252.3 L1363.4 252.5 L1366.6 252.8 L1369.8 253.3 L1372.9 254.0 L1376.1 254.8 L1379.3 255.8 L1382.6 256.9 L1385.8 258.2 L1389.1 259.6 L1392.3 261.1 L1395.6 262.8 L1398.9 264.7 L1402.3 266.6 L1405.6 268.6 L1409.0 270.8 L1412.3 273.0 L1415.7 275.4 L1419.1 277.8 L1422.6 280.3 L1426.0 282.9 L1429.5 285.6 L1432.9 288.3 L1436.4 291.1 L1439.9 293.9 L1443.4 296.8 L1447.0 299.7 L1450.5 302.6 L1454.1 305.6 L1457.7 308.7 L1461.3 311.7 L1464.9 314.8 L1468.5 317.9 L1472.2 321.1 L1475.8 324.3 L1479.5 327.4 L1483.2 330.6 L1486.9 333.8 L1490.7 337.1 L1494.4 340.3 L1498.2 343.5 L1502.0 346.8 L1505.7 350.0 L1509.6 353.2 L1513.4 356.5 L1517.2 359.7 L1521.1 362.9 L1525.0 366.1 L1528.9 369.3 L1532.8 372.5 L1536.7 375.7 L1540.6 378.8 L1544.6 382.0 L1548.6 385.1 L1552.5 388.2 L1556.6 391.3 L1560.6 394.4 L1564.6 397.5 L1568.7 400.5 L1572.7 403.5 L1576.8 406.6 L1580.9 409.6 L1585.0 412.5 L1589.2 415.5 L1593.3 418.4 L1597.5 421.3 L1601.7 424.2 L1605.9 427.1 L1610.1 429.9 L1614.3 432.7 L1618.6 435.5 L1622.8 438.2 L1627.1 441.0 L1631.4 443.6 L1635.7 446.3 L1640.1 448.9 L1644.4 451.5 L1648.8 454.0 L1653.2 456.5 L1657.5 459.0 L1662.0 461.4 L1666.4 463.8 L1670.8 466.1 L1675.3 468.4 L1679.8 470.6 L1684.3 472.8 L1688.8 475.0 L1693.3 477.1 L1697.8 479.1 L1702.4 481.1 L1707.0 483.1 L1711.5 485.0 L1716.1 486.8 L1720.8 488.7 L1725.4 490.4 L1730.1 492.2 L1734.7 493.9 L1739.4 495.5 L1744.1 497.1 L1748.8 498.7 L1753.6 500.2 L1758.3 501.7 L1763.1 503.2 L1767.9 504.6 L1772.7 506.0 L1777.5 507.3 L1782.3 508.6 L1787.2 509.9 L1792.0 511.1 L1796.9 512.4 L1801.8 513.5 L1806.7 514.7 L1811.6 515.8 L1816.6 516.8 L1821.6 517.9 L1826.5 518.9 L1831.5 519.9 L1836.5 520.8 L1841.6 521.7 L1846.6 522.6 L1851.7 523.5 L1856.7 524.3 L1861.8 525.1 L1866.9 525.9 L1872.1 526.6 L1877.2 527.3 L1882.4 528.0 L1887.5 528.7 L1892.7 529.4 L1897.9 530.1 L1903.1 530.7 L1908.4 531.4 L1913.6 532.0 L1918.9 532.6 L1924.2 533.2 L1929.5 533.8 L1934.8 534.4" stroke="#00ff00"/>
<path d="M1098.8 639.9 L1099.9 639.7 L1099.9 639.7 L1100.9 639.4 L1101.1 639.3 L1102.0 638.8 L1102.3 638.6 L1103.1 638.0 L1103.4 637.6 L1104.2 637.0 L1104.7 636.5 L1105.2 635.9 L1105.9 635.1 L1106.3 634.6 L1107.1 633.6 L1107.4 633.3 L1108.4 631.9 L1108.4 631.7 L1109.5 629.1 L1109.6 628.7 L1110.6 625.5 L1110.9 624.3 L1111.7 621.5 L1112.2 619.4 L1112.7 617.4 L1113.5 614.7 L1113.8 613.9 L1114.9 611.0 L1114.9 611.0 L1115.9 608.2 L1116.2 607.5 L1117.0 605.5 L1117.6 604.3 L1118.1 603.3 L1118.9 601.9 L1119.2 601.6 L1120.2 601.2 L1120.3 601.1 L1121.3 600.6 L1121.8 600.3 L1122.4 600.0 L1123.2 599.6 L1123.5 599.4 L1124.5 598.8 L1124.6 598.8 L1125.6 598.2 L1126.1 597.9 L1126.7 597.6 L1127.6 597.0 L1127.7 596.9 L1128.8 596.2 L1129.1 596.0 L1129.9 595.4 L1130.6 594.9 L1131.0 594.7 L1132.0 593.8 L1132.1 593.8 L1133.1 593.0 L1133.6 592.5 L1134.2 592.1 L1135.2 591.2 L1135.2 591.1 L1136.3 590.1 L1136.8 589.7 L1137.4 589.1 L1138.4 588.1 L1138.5 588.0 L1139.5 586.9 L1140.0 586.4 L1140.6 585.7 L1141.6 584.5 L1143.2 582.6 L1144.9 580.6 L1146.6 578.5 L1148.3 576.3 L1150.0 574.0 L1151.7 571.6 L1153.4 569.2 L1155.2 566.7 L1157.0 564.1 L1158.7 561.3 L1160.5 558.4 L1162.4 555.3 L1164.2 552.1 L1166.0 548.6 L1167.9 545.0 L1169.8 541.1 L1171.7 537.0 L1173.6 532.7 L1175.5 528.1 L1177.5 523.3 L1179.5 518.1 L1181.4 512.7 L1183.4 506.9 L1185.4 500.9 L1187.5 494.5 L1189.5 487.9 L1191.6 481.0 L1193.7 473.8 L1195.7 466.4 L1197.9 458.7 L1200.0 450.8 L1202.1 442.8 L1204.3 434.5 L1206.5 426.1 L1208.6 417.6 L1210.9 409.0 L1213.1 400.4 L1215.3 391.6 L1217.6 382.7 L1219.8 373.8 L1222.1 364.8 L1224.4 355.9 L1226.8 346.9 L1229.1 338.0 L1231.4 329.2 L1233.8 320.5 L1236.2 311.9 L1238.6 303.5 L1241.0 295.3 L1243.5 287.3 L1245.9 279.4 L1248.4 271.8 L1250.9 264.4 L1253.4 257.2 L1255.9 250.2 L1258.4 243.5 L1260.9 237.0 L1263.5 230.8 L1266.1 224.8 L1268.7 219.0 L1271.3 213.5 L1273.9 208.2 L1276.6 203.3 L1279.2 198.5 L1281.9 194.1 L1284.6 189.9 L1287.3 185.9 L1290.0 182.3 L1292.8 178.9 L1295.5 175.8 L1298.3 172.9 L1301.1 170.4 L1303.9 168.1 L1306.7 166.1 L1309.6 164.3 L1312.4 162.8 L1315.3 161.6 L1318.2 160.5 L1321.1 159.7 L1324.0 159.2 L1326.9 158.8 L1329.9 158.7 L1332.9 158.8 L1335.9 159.0 L1338.9 159.5 L1341.9 160.2 L1344.9 161.0 L1348.0 162.1 L1351.0 163.3 L1354.1 164.7 L1357.2 166.3 L1360.3 168.1 L1363.4 170.0 L1366.6 172.1 L1369.8 174.4 L1372.9 176.8 L1376.1 179.3 L1379.3 182.0 L1382.6 184.8 L1385.8 187.7 L1389.1 190.7 L1392.3 193.9 L1395.6 197.1 L1398.9 200.4 L1402.3 203.8 L1405.6 207.2 L1409.0 210.7 L1412.3 214.3 L1415.7 217.9 L1419.1 221.5 L1422.6 225.2 L1426.0 228.9 L1429.5 232.6 L1432.9 236.4 L1436.4 240.1 L1439.9 243.9 L1443.4 247.7 L1447.0 251.4 L1450.5 255.2 L1454.1 259.0 L1457.7 262.8 L1461.3 266.6 L1464.9 270.4 L1468.5 274.3 L1472.2 278.1 L1475.8 281.9 L1479.5 285.7 L1483.2 289.6 L1486.9 293.4 L1490.7 297.3 L1494.4 301.1 L1498.2 305.0 L1502.0 308.8 L1505.7 312.7 L1509.6 316.6 L1513.4 320.4 L1517.2 324.3 L1521.1 328.2 L1525.0 332.0 L1528.9 335.9 L1532.8 339.7 L1536.7 343.6 L1540.6 347.4 L1544.6 351.3 L1548.6 355.1 L1552.5 358.9 L1556.6 362.6 L1560.6 366.4 L1564.6 370.1 L1568.7 373.8 L1572.7 377.5 L1576.8 381.1 L1580.9 384.7 L1585.0 388.3 L1589.2 391.8 L1593.3 395.3 L1597.5 398.8 L1601.7 402.2 L1605.9 405.6 L1610.1 409.0 L1614.3 412.3 L1618.6 415.5 L1622.8 418.7 L1627.1 421.9 L1631.4 425.0 L1635.7 428.1 L1640.1 431.1 L1644.4 434.0 L1648.8 437.0 L1653.2 439.8 L1657.5 442.6 L1662.0 445.4 L1666.4 448.1 L1670.8 450.8 L1675.3 453.4 L1679.8 455.9 L1684.3 458.4 L1688.8 460.8 L1693.3 463.2 L1697.8 465.5 L1702.4 467.8 L1707.0 470.0 L1711.5 472.2 L1716.1 474.3 L1720.8 476.3 L1725.4 478.3 L1730.1 480.3 L1734.7 482.2 L1739.4 484.0 L1744.1 485.8 L1748.8 487.5 L1753.6 489.2 L1758.3 490.8 L1763.1 492.4 L1767.9 493.9 L1772.7 495.4 L1777.5 496.9 L1782.3 498.2 L1787.2 499.6 L1792.0 500.9 L1796.9 502.1 L1801.8 503.3 L1806.7 504.5 L1811.6 505.6 L1816.6 506.7 L1821.6 507.8 L1826.5 508.8 L1831.5 509.8 L1836.5 510.7 L1841.6 511.6 L1846.6 512.5 L1851.7 513.3 L1856.7 514.1 L1861.8 514.9 L1866.9 515.7 L1872.1 516.4 L1877.2 517.1 L1882.4 517.8 L1887.5 518.5 L1892.7 519.1 L1897.9 519.8 L1903.1 520.4 L1908.4 521.0 L1913.6 521.6 L1918.9 522.2 L1924.2 522.8 L1929.5 523.4 L1934.8 524.0" stroke="#ffff00"/>
<path d="M1098.8 639.9 L1099.9 639.7 L1099.9 639.7 L1100.9 639.4 L1101.1 639.3 L1102.0 638.8 L1102.3 638.6 L1103.1 638.0 L1103.4 637.6 L1104.2 637.0 L1104.7 636.5 L1105.2 635.9 L1105.9 635.1 L1106.3 634.6 L1107.1 633.6 L1107.4 633.3 L1108.4 631.9 L1108.4 631.7 L1109.5 629.1 L1109.6 628.7 L1110.6 625.5 L1110.9 624.3 L1111.7 621.5 L1112.2 619.4 L1112.7 617.4 L1113.5 614.7 L1113.8 613.9 L1114.9 611.0 L1114.9 611.0 L1115.9 608.3 L1116.2 607.6 L1117.0 605.7 L1117.6 604.5 L1118.1 603.5 L1118.9 602.0 L1119.2 601.6 L1120.2 601.3 L1120.3 601.2 L1121.3 600.5 L1121.8 600.2 L1122.4 599.8 L1123.2 599.2 L1123.5 598.9 L1124.5 598.1 L1124.6 598.0 L1125.6 597.2 L1126.1 596.7 L1126.7 596.2 L1127.6 595.3 L1127.7 595.1 L1128.8 594.0 L1129.1 593.7 L1129.9 592.7 L1130.6 591.8 L1131.0 591.4 L1132.0 589.9 L1132.1 589.8 L1133.1 588.3 L1133.6 587.5 L1134.2 586.7 L1135.2 584.9 L1135.2 584.9 L1136.3 582.9 L1136.8 582.1 L1137.4 580.9 L1138.4 579.0 L1138.5 578.8 L1139.5 576.7 L1140.0 575.7 L1140.6 574.4 L1141.6 572.3 L1143.2 568.7 L1144.9 565.1 L1146.6 561.3 L1148.3 557.5 L1150.0 553.6 L1151.7 549.6 L1153.4 545.5 L1155.2 541.2 L1157.0 536.8 L1158.7 532.3 L1160.5 527.6 L1162.4 522.7 L1164.2 517.5 L1166.0 512.1 L1167.9 506.5 L1169.8 500.6 L1171.7 494.3 L1173.6 487.7 L1175.5 480.8 L1177.5 473.4 L1179.5 465.6 L1181.4 457.4 L1183.4 448.8 L1185.4 439.7 L1187.5 430.2 L1189.5 420.3 L1191.6 410.2 L1193.7 399.7 L1195.7 388.9 L1197.9 377.9 L1200.0 366.8 L1202.1 355.7 L1204.3 344.7 L1206.5 333.8 L1208.6 323.1 L1210.9 312.6 L1213.1 302.2 L1215.3 291.8 L1217.6 281.5 L1219.8 271.3 L1222.1 261.3 L1224.4 251.3 L1226.8 241.5 L1229.1 231.9 L1231.4 222.5 L1233.8 213.3 L1236.2 204.4 L1238.6 195.7 L1241.0 187.2 L1243.5 179.1 L1245.9 171.2 L1248.4 163.7 L1250.9 156.5 L1253.4 149.7 L1255.9 143.2 L1258.4 137.0 L1260.9 131.3 L1263.5 125.9 L1266.1 120.8 L1268.7 116.1 L1271.3 111.8 L1273.9 107.8 L1276.6 104.1 L1279.2 100.7 L1281.9 97.6 L1284.6 94.8 L1287.3 92.4 L1290.0 90.2 L1292.8 88.3 L1295.5 86.6 L1298.3 85.3 L1301.1 84.2 L1303.9 83.4 L1306.7 82.9 L1309.6 82.6 L1312.4 82.5 L1315.3 82.8 L1318.2 83.2 L1321.1 83.9 L1324.0 84.8 L1326.9 85.9 L1329.9 87.2 L1332.9 88.8 L1335.9 90.5 L1338.9 92.4 L1341.9 94.5 L1344.9 96.7 L1348.0 99.1 L1351.0 101.7 L1354.1 104.4 L1357.2 107.3 L1360.3 110.3 L1363.4 113.4 L1366.6 116.6 L1369.8 120.0 L1372.9 123.5 L1376.1 127.0 L1379.3 130.6 L1382.6 134.4 L1385.8 138.2 L1389.1 142.1 L1392.3 146.0 L1395.6 150.0 L1398.9 154.1 L1402.3 158.2 L1405.6 162.4 L1409.0 166.6 L1412.3 170.9 L1415.7 175.2 L1419.1 179.6 L1422.6 184.0 L1426.0 188.4 L1429.5 192.9 L1432.9 197.5 L1436.4 202.0 L1439.9 206.6 L1443.4 211.3 L1447.0 215.9 L1450.5 220.6 L1454.1 225.3 L1457.7 230.1 L1461.3 234.9 L1464.9 239.7 L1468.5 244.5 L1472.2 249.4 L1475.8 254.2 L1479.5 259.1 L1483.2 264.1 L1486.9 269.0 L1490.7 273.9 L1494.4 278.8 L1498.2 283.7 L1502.0 288.6 L1505.7 293.5 L1509.6 298.3 L1513.4 303.1 L1517.2 307.9 L1521.1 312.6 L1525.0 317.3 L1528.9 322.0 L1532.8 326.6 L1536.7 331.1 L1540.6 335.6 L1544.6 340.1 L1548.6 344.5 L1552.5 348.8 L1556.6 353.1 L1560.6 357.3 L1564.6 361.5 L1568.7 365.7 L1572.7 369.7 L1576.8 373.7 L1580.9 377.7 L1585.0 381.6 L1589.2 385.4 L1593.3 389.1 L1597.5 392.7 L1601.7 396.3 L1605.9 399.8 L1610.1 403.2 L1614.3 406.6 L1618.6 409.8 L1622.8 413.0 L1627.1 416.2 L1631.4 419.2 L1635.7 422.2 L1640.1 425.2 L1644.4 428.0 L1648.8 430.8 L1653.2 433.6 L1657.5 436.3 L1662.0 438.9 L1666.4 441.5 L1670.8 444.1 L1675.3 446.5 L1679.8 449.0 L1684.3 451.4 L1688.8 453.7 L1693.3 456.0 L1697.8 458.3 L1702.4 460.5 L1707.0 462.7 L1711.5 464.8 L1716.1 466.9 L1720.8 468.9 L1725.4 470.9 L1730.1 472.8 L1734.7 474.7 L1739.4 476.5 L1744.1 478.3 L1748.8 480.0 L1753.6 481.7 L1758.3 483.4 L1763.1 485.0 L1767.9 486.5 L1772.7 488.0 L1777.5 489.5 L1782.3 490.9 L1787.2 492.3 L1792.0 493.6 L1796.9 494.9 L1801.8 496.1 L1806.7 497.3 L1811.6 498.4 L1816.6 499.6 L1821.6 500.6 L1826.5 501.7 L1831.5 502.6 L1836.5 503.6 L1841.6 504.5 L1846.6 505.4 L1851.7 506.3 L1856.7 507.1 L1861.8 507.8 L1866.9 508.6 L1872.1 509.3 L1877.2 510.0 L1882.4 510.7 L1887.5 511.3 L1892.7 512.0 L1897.9 512.6 L1903.1 513.2 L1908.4 513.8 L1913.6 514.4 L1918.9 514.9 L1924.2 515.5 L1929.5 516.1 L1934.8 516.6" stroke="#ff0000"/>
</g>
<text transform="translate(1098.8 696.6) scale(1.12 1)" text-anchor="middle" font-family='"Liberation Sans", Arial, Helvetica, sans-serif' font-size="22">0</text>
<text transform="translate(1181.7 696.6) scale(1.12 1)" text-anchor="middle" font-family='"Liberation Sans", Arial, Helvetica, sans-serif' font-size="22">1</text>
<text transform="translate(1264.0 696.6) scale(1.12 1)" text-anchor="middle" font-family='"Liberation Sans", Arial, Helvetica, sans-serif' font-size="22">2</text>
<text transform="translate(1348.8 696.6) scale(1.12 1)" text-anchor="middle" font-family='"Liberation Sans", Arial, Helvetica, sans-serif' font-size="22">3</text>
<text transform="translate(1431.7 696.6) scale(1.12 1)" text-anchor="middle" font-family='"Liberation Sans", Arial, Helvetica, sans-serif' font-size="22">4</text>
<text transform="translate(1516.3 696.6) scale(1.12 1)" text-anchor="middle" font-family='"Liberation Sans", Arial, Helvetica, sans-serif' font-size="22">5</text>
<text transform="translate(1599.3 696.6) scale(1.12 1)" text-anchor="middle" font-family='"Liberation Sans", Arial, Helvetica, sans-serif' font-size="22">6</text>
<text transform="translate(1682.1 696.6) scale(1.12 1)" text-anchor="middle" font-family='"Liberation Sans", Arial, Helvetica, sans-serif' font-size="22">7</text>
<text transform="translate(1766.5 696.6) scale(1.12 1)" text-anchor="middle" font-family='"Liberation Sans", Arial, Helvetica, sans-serif' font-size="22">8</text>
<text transform="translate(1849.6 696.6) scale(1.12 1)" text-anchor="middle" font-family='"Liberation Sans", Arial, Helvetica, sans-serif' font-size="22">9</text>
<text transform="translate(1934.8 696.6) scale(1.12 1)" text-anchor="middle" font-family='"Liberation Sans", Arial, Helvetica, sans-serif' font-size="22">10</text>
<text transform="translate(1091.0 677.8) scale(1.12 1)" text-anchor="end" font-family='"Liberation Sans", Arial, Helvetica, sans-serif' font-size="22">0</text>
<text transform="translate(1091.0 610.4) scale(1.12 1)" text-anchor="end" font-family='"Liberation Sans", Arial, Helvetica, sans-serif' font-size="22">1</text>
<text transform="translate(1091.0 543.1) scale(1.12 1)" text-anchor="end" font-family='"Liberation Sans", Arial, Helvetica, sans-serif' font-size="22">2</text>
<text transform="translate(1091.0 475.7) scale(1.12 1)" text-anchor="end" font-family='"Liberation Sans", Arial, Helvetica, sans-serif' font-size="22">3</text>
<text transform="translate(1091.0 408.3) scale(1.12 1)" text-anchor="end" font-family='"Liberation Sans", Arial, Helvetica, sans-serif' font-size="22">4</text>
<text transform="translate(1091.0 341.0) scale(1.12 1)" text-anchor="end" font-family='"Liberation Sans", Arial, Helvetica, sans-serif' font-size="22">5</text>
<text transform="translate(1091.0 273.6) scale(1.12 1)" text-anchor="end" font-family='"Liberation Sans", Arial, Helvetica, sans-serif' font-size="22">6</text>
<text transform="translate(1091.0 206.2) scale(1.12 1)" text-anchor="end" font-family='"Liberation Sans", Arial, Helvetica, sans-serif' font-size="22">7</text>
<text transform="translate(1091.0 138.9) scale(1.12 1)" text-anchor="end" font-family='"Liberation Sans", Arial, Helvetica, sans-serif' font-size="22">8</text>
<text transform="translate(1091.0 71.5) scale(1.12 1)" text-anchor="end" font-family='"Liberation Sans", Arial, Helvetica, sans-serif' font-size="22">9</text>
<text x="1233.3" y="34.1" font-family='"Liberation Sans", Arial, Helvetica, sans-serif' font-size="22.3" textLength="564.6" lengthAdjust="spacingAndGlyphs">Effect of <tspan font-family='"Liberation Serif", "Times New Roman", serif' font-size="27">&#949;</tspan><tspan font-size="16" dy="10">1</tspan><tspan dy="-10"> on non-inflammatory infected group (U))</tspan></text>
<text x="1099.0" y="50.9" font-family='"Liberation Sans", Arial, Helvetica, sans-serif' font-size="22.3" textLength="47.0" lengthAdjust="spacingAndGlyphs">x 10</text>
<text x="1147.2" y="35.9" font-family='"Liberation Sans", Arial, Helvetica, sans-serif' font-size="15" textLength="8.9" lengthAdjust="spacingAndGlyphs">4</text>
<text x="1444.1" y="726.6" font-family='"Liberation Sans", Arial, Helvetica, sans-serif' font-size="22.3" textLength="141.0" lengthAdjust="spacingAndGlyphs">Time in days</text>
<text transform="translate(1055.4 360.6) rotate(-90)" font-family='"Liberation Sans", Arial, Helvetica, sans-serif' font-size="23.6" text-anchor="middle" textLength="361.0" lengthAdjust="spacingAndGlyphs">Non-inflammatory infected group (U)</text>
<rect x="1711.1" y="74.9" width="214.1" height="145.7" fill="#fff" stroke="#000" stroke-width="2.2"/>
<line x1="1726.1" y1="102.0" x2="1803.4" y2="102.0" stroke="#00ff00" stroke-width="9.2"/>
<text x="1811.4" y="106.0" font-family='"Liberation Sans", Arial, Helvetica, sans-serif' font-size="22.3" textLength="101.8" lengthAdjust="spacingAndGlyphs"><tspan font-family='"Liberation Serif", "Times New Roman", serif' font-size="27">&#949;</tspan><tspan font-size="16" dy="10">1</tspan><tspan dy="-10"> = 0.46</tspan></text>
<line x1="1726.1" y1="148.0" x2="1803.4" y2="148.0" stroke="#ffff00" stroke-width="9.2"/>
<text x="1811.4" y="152.5" font-family='"Liberation Sans", Arial, Helvetica, sans-serif' font-size="22.3" textLength="101.8" lengthAdjust="spacingAndGlyphs"><tspan font-family='"Liberation Serif", "Times New Roman", serif' font-size="27">&#949;</tspan><tspan font-size="16" dy="10">1</tspan><tspan dy="-10"> = 0.39</tspan></text>
<line x1="1726.1" y1="192.6" x2="1803.4" y2="192.6" stroke="#ff0000" stroke-width="9.2"/>
<text x="1811.4" y="198.0" font-family='"Liberation Sans", Arial, Helvetica, sans-serif' font-size="22.3" textLength="101.8" lengthAdjust="spacingAndGlyphs"><tspan font-family='"Liberation Serif", "Times New Roman", serif' font-size="27">&#949;</tspan><tspan font-size="16" dy="10">1</tspan><tspan dy="-10"> = 0.34</tspan></text>
<g stroke="#000" stroke-width="1.9" fill="none">
<line x1="177.6" y1="932.5" x2="177.6" y2="1564.8" stroke-dasharray="10 7.6"/>
<line x1="257.7" y1="932.5" x2="257.7" y2="1564.8" stroke-dasharray="10 7.6"/>
<line x1="339.3" y1="932.5" x2="339.3" y2="1564.8" stroke-dasharray="10 7.6"/>
<line x1="419.9" y1="932.5" x2="419.9" y2="1564.8" stroke-dasharray="10 7.6"/>
<line x1="501.7" y1="932.5" x2="501.7" y2="1564.8" stroke-dasharray="10 7.6"/>
<line x1="581.8" y1="932.5" x2="581.8" y2="1564.8" stroke-dasharray="10 7.6"/>
<line x1="662.1" y1="932.5" x2="662.1" y2="1564.8" stroke-dasharray="10 7.6"/>
<line x1="744.0" y1="932.5" x2="744.0" y2="1564.8" stroke-dasharray="10 7.6"/>
<line x1="823.8" y1="932.5" x2="823.8" y2="1564.8" stroke-dasharray="10 7.6"/>
<line x1="97.8" y1="1501.6" x2="905.6" y2="1501.6" stroke-dasharray="10 7.6"/>
<line x1="97.8" y1="1438.3" x2="905.6" y2="1438.3" stroke-dasharray="10 7.6"/>
<line x1="97.8" y1="1375.1" x2="905.6" y2="1375.1" stroke-dasharray="10 7.6"/>
<line x1="97.8" y1="1311.9" x2="905.6" y2="1311.9" stroke-dasharray="10 7.6"/>
<line x1="97.8" y1="1248.7" x2="905.6" y2="1248.7" stroke-dasharray="10 7.6"/>
<line x1="97.8" y1="1185.4" x2="905.6" y2="1185.4" stroke-dasharray="10 7.6"/>
<line x1="97.8" y1="1122.2" x2="905.6" y2="1122.2" stroke-dasharray="10 7.6"/>
<line x1="97.8" y1="1059.0" x2="905.6" y2="1059.0" stroke-dasharray="10 7.6"/>
<line x1="97.8" y1="995.7" x2="905.6" y2="995.7" stroke-dasharray="10 7.6"/>
</g>
<g stroke="#000" stroke-width="1.9" fill="none">
<line x1="177.6" y1="1564.8" x2="177.6" y2="1556.8"/><line x1="177.6" y1="932.5" x2="177.6" y2="940.5"/>
<line x1="257.7" y1="1564.8" x2="257.7" y2="1556.8"/><line x1="257.7" y1="932.5" x2="257.7" y2="940.5"/>
<line x1="339.3" y1="1564.8" x2="339.3" y2="1556.8"/><line x1="339.3" y1="932.5" x2="339.3" y2="940.5"/>
<line x1="419.9" y1="1564.8" x2="419.9" y2="1556.8"/><line x1="419.9" y1="932.5" x2="419.9" y2="940.5"/>
<line x1="501.7" y1="1564.8" x2="501.7" y2="1556.8"/><line x1="501.7" y1="932.5" x2="501.7" y2="940.5"/>
<line x1="581.8" y1="1564.8" x2="581.8" y2="1556.8"/><line x1="581.8" y1="932.5" x2="581.8" y2="940.5"/>
<line x1="662.1" y1="1564.8" x2="662.1" y2="1556.8"/><line x1="662.1" y1="932.5" x2="662.1" y2="940.5"/>
<line x1="744.0" y1="1564.8" x2="744.0" y2="1556.8"/><line x1="744.0" y1="932.5" x2="744.0" y2="940.5"/>
<line x1="823.8" y1="1564.8" x2="823.8" y2="1556.8"/><line x1="823.8" y1="932.5" x2="823.8" y2="940.5"/>
<line x1="97.8" y1="1501.6" x2="105.8" y2="1501.6"/><line x1="905.6" y1="1501.6" x2="897.6" y2="1501.6"/>
<line x1="97.8" y1="1438.3" x2="105.8" y2="1438.3"/><line x1="905.6" y1="1438.3" x2="897.6" y2="1438.3"/>
<line x1="97.8" y1="1375.1" x2="105.8" y2="1375.1"/><line x1="905.6" y1="1375.1" x2="897.6" y2="1375.1"/>
<line x1="97.8" y1="1311.9" x2="105.8" y2="1311.9"/><line x1="905.6" y1="1311.9" x2="897.6" y2="1311.9"/>
<line x1="97.8" y1="1248.7" x2="105.8" y2="1248.7"/><line x1="905.6" y1="1248.7" x2="897.6" y2="1248.7"/>
<line x1="97.8" y1="1185.4" x2="105.8" y2="1185.4"/><line x1="905.6" y1="1185.4" x2="897.6" y2="1185.4"/>
<line x1="97.8" y1="1122.2" x2="105.8" y2="1122.2"/><line x1="905.6" y1="1122.2" x2="897.6" y2="1122.2"/>
<line x1="97.8" y1="1059.0" x2="105.8" y2="1059.0"/><line x1="905.6" y1="1059.0" x2="897.6" y2="1059.0"/>
<line x1="97.8" y1="995.7" x2="105.8" y2="995.7"/><line x1="905.6" y1="995.7" x2="897.6" y2="995.7"/>
</g>
<rect x="97.8" y="932.5" width="807.8" height="632.3" fill="none" stroke="#000" stroke-width="2.4"/>
<clipPath id="clip3"><rect x="96.6" y="932.5" width="810.0" height="632.3"/></clipPath>
<g clip-path="url(#clip3)" fill="none" stroke-width="10.3" stroke-linejoin="round" stroke-linecap="butt">
<path d="M97.8 1104.8 L98.4 1090.3 L98.9 1079.4 L99.0 1076.2 L99.7 1062.4 L100.0 1054.6 L100.3 1048.5 L100.9 1034.2 L101.1 1028.9 L101.5 1020.8 L102.1 1009.7 L102.3 1007.7 L102.8 1001.1 L103.4 993.2 L103.5 992.4 L104.0 986.0 L104.6 979.9 L104.6 979.8 L105.3 974.6 L105.8 970.7 L105.9 970.4 L106.5 967.0 L107.0 964.2 L107.1 963.8 L107.7 961.1 L108.3 959.3 L108.4 959.0 L109.0 957.8 L109.5 959.4 L109.6 959.8 L110.2 961.9 L110.8 963.7 L110.8 964.0 L111.5 966.1 L112.0 968.0 L112.1 968.2 L112.7 970.3 L113.3 972.3 L113.3 972.3 L114.0 974.4 L114.6 976.5 L114.6 976.6 L115.2 978.5 L115.8 980.6 L115.9 981.0 L116.4 982.6 L117.1 984.6 L117.3 985.3 L117.7 986.7 L118.3 988.7 L118.6 989.7 L118.9 990.7 L119.5 992.7 L120.0 994.1 L120.2 994.7 L120.8 996.7 L121.4 998.5 L121.4 998.7 L122.0 1000.7 L122.8 1003.0 L124.2 1007.4 L125.6 1011.9 L127.0 1016.4 L128.5 1020.9 L130.0 1025.4 L131.5 1029.9 L133.0 1034.4 L134.5 1038.9 L136.0 1043.5 L137.6 1048.0 L139.2 1052.6 L140.7 1057.1 L142.3 1061.7 L144.0 1066.2 L145.6 1070.8 L147.2 1075.3 L148.9 1079.9 L150.6 1084.5 L152.3 1089.0 L154.0 1093.6 L155.7 1098.1 L157.5 1102.7 L159.2 1107.3 L161.0 1111.8 L162.8 1116.3 L164.6 1120.9 L166.4 1125.4 L168.2 1129.9 L170.1 1134.4 L171.9 1138.9 L173.8 1143.4 L175.7 1147.9 L177.6 1152.4 L179.6 1156.8 L181.5 1161.3 L183.5 1165.7 L185.5 1170.1 L187.4 1174.5 L189.5 1178.9 L191.5 1183.3 L193.5 1187.6 L195.6 1192.0 L197.6 1196.3 L199.7 1200.6 L201.8 1204.9 L203.9 1209.2 L206.1 1213.4 L208.2 1217.6 L210.4 1221.8 L212.6 1226.0 L214.8 1230.2 L217.0 1234.3 L219.2 1238.4 L221.4 1242.5 L223.7 1246.6 L226.0 1250.7 L228.3 1254.7 L230.6 1258.7 L232.9 1262.7 L235.2 1266.6 L237.6 1270.5 L239.9 1274.4 L242.3 1278.3 L244.7 1282.1 L247.1 1286.0 L249.6 1289.8 L252.0 1293.5 L254.5 1297.3 L257.0 1301.0 L259.4 1304.6 L262.0 1308.3 L264.5 1311.9 L267.0 1315.5 L269.6 1319.1 L272.1 1322.6 L274.7 1326.1 L277.3 1329.6 L280.0 1333.0 L282.6 1336.4 L285.2 1339.8 L287.9 1343.2 L290.6 1346.5 L293.3 1349.8 L296.0 1353.0 L298.7 1356.3 L301.5 1359.5 L304.2 1362.6 L307.0 1365.8 L309.8 1368.9 L312.6 1371.9 L315.4 1375.0 L318.2 1378.0 L321.1 1381.0 L324.0 1383.9 L326.9 1386.8 L329.8 1389.7 L332.7 1392.6 L335.6 1395.4 L338.5 1398.2 L341.5 1400.9 L344.5 1403.7 L347.5 1406.4 L350.5 1409.0 L353.5 1411.6 L356.6 1414.2 L359.6 1416.8 L362.7 1419.4 L365.8 1421.9 L368.9 1424.3 L372.0 1426.8 L375.1 1429.2 L378.3 1431.6 L381.4 1433.9 L384.6 1436.3 L387.8 1438.6 L391.0 1440.8 L394.3 1443.1 L397.5 1445.3 L400.8 1447.4 L404.0 1449.6 L407.3 1451.7 L410.6 1453.8 L414.0 1455.8 L417.3 1457.9 L420.7 1459.9 L424.0 1461.8 L427.4 1463.8 L430.8 1465.7 L434.2 1467.6 L437.7 1469.5 L441.1 1471.3 L444.6 1473.1 L448.0 1474.9 L451.5 1476.6 L455.1 1478.4 L458.6 1480.1 L462.1 1481.7 L465.7 1483.4 L469.3 1485.0 L472.8 1486.6 L476.4 1488.2 L480.1 1489.7 L483.7 1491.2 L487.4 1492.7 L491.0 1494.2 L494.7 1495.7 L498.4 1497.1 L502.1 1498.5 L505.8 1499.9 L509.6 1501.2 L513.3 1502.5 L517.1 1503.9 L520.9 1505.1 L524.7 1506.4 L528.5 1507.7 L532.4 1508.9 L536.2 1510.1 L540.1 1511.3 L544.0 1512.4 L547.9 1513.6 L551.8 1514.7 L555.8 1515.8 L559.7 1516.9 L563.7 1517.9 L567.6 1519.0 L571.6 1520.0 L575.6 1521.0 L579.7 1522.0 L583.7 1522.9 L587.8 1523.9 L591.9 1524.8 L595.9 1525.7 L600.0 1526.6 L604.2 1527.5 L608.3 1528.3 L612.5 1529.2 L616.6 1530.0 L620.8 1530.8 L625.0 1531.6 L629.2 1532.4 L633.5 1533.2 L637.7 1533.9 L642.0 1534.6 L646.2 1535.4 L650.5 1536.1 L654.8 1536.7 L659.2 1537.4 L663.5 1538.1 L667.9 1538.7 L672.2 1539.4 L676.6 1540.0 L681.0 1540.6 L685.4 1541.2 L689.9 1541.8 L694.3 1542.3 L698.8 1542.9 L703.3 1543.4 L707.8 1544.0 L712.3 1544.5 L716.8 1545.0 L721.3 1545.5 L725.9 1546.0 L730.5 1546.5 L735.1 1546.9 L739.7 1547.4 L744.3 1547.8 L748.9 1548.3 L753.6 1548.7 L758.3 1549.1 L762.9 1549.5 L767.6 1549.9 L772.4 1550.3 L777.1 1550.7 L781.8 1551.1 L786.6 1551.4 L791.4 1551.8 L796.2 1552.1 L801.0 1552.5 L805.8 1552.8 L810.6 1553.1 L815.5 1553.4 L820.4 1553.8 L825.3 1554.1 L830.2 1554.3 L835.1 1554.6 L840.0 1554.9 L845.0 1555.2 L849.9 1555.5 L854.9 1555.7 L859.9 1556.0 L864.9 1556.2 L870.0 1556.4 L875.0 1556.7 L880.1 1556.9 L885.1 1557.1 L890.2 1557.3 L895.3 1557.6 L900.5 1557.8 L905.6 1558.0" stroke="#ff0000"/>
<path d="M97.8 1106.4 L98.4 1094.4 L98.9 1085.5 L99.0 1082.9 L99.7 1071.7 L100.0 1065.7 L100.3 1061.1 L100.9 1050.4 L101.1 1046.3 L101.5 1039.9 L102.1 1030.4 L102.3 1028.5 L102.8 1022.8 L103.4 1016.2 L103.5 1015.6 L104.0 1010.2 L104.6 1004.9 L104.6 1004.9 L105.3 1000.5 L105.8 997.5 L105.9 997.3 L106.5 994.7 L107.0 992.7 L107.1 992.4 L107.7 990.4 L108.3 989.2 L108.4 989.0 L109.0 988.5 L109.5 990.1 L109.6 990.5 L110.2 992.6 L110.8 994.4 L110.8 994.8 L111.5 996.9 L112.0 998.8 L112.1 999.0 L112.7 1001.1 L113.3 1003.2 L113.3 1003.2 L114.0 1005.4 L114.6 1007.4 L114.6 1007.6 L115.2 1009.5 L115.8 1011.6 L115.9 1012.0 L116.4 1013.7 L117.1 1015.7 L117.3 1016.4 L117.7 1017.8 L118.3 1019.9 L118.6 1020.9 L118.9 1021.9 L119.5 1023.9 L120.0 1025.4 L120.2 1026.0 L120.8 1028.0 L121.4 1029.8 L121.4 1030.0 L122.0 1032.0 L122.8 1034.3 L124.2 1038.8 L125.6 1043.3 L127.0 1047.9 L128.5 1052.4 L130.0 1056.9 L131.5 1061.5 L133.0 1066.1 L134.5 1070.6 L136.0 1075.2 L137.6 1079.8 L139.2 1084.3 L140.7 1088.9 L142.3 1093.5 L144.0 1098.1 L145.6 1102.6 L147.2 1107.2 L148.9 1111.8 L150.6 1116.3 L152.3 1120.9 L154.0 1125.5 L155.7 1130.0 L157.5 1134.6 L159.2 1139.1 L161.0 1143.6 L162.8 1148.2 L164.6 1152.7 L166.4 1157.2 L168.2 1161.7 L170.1 1166.1 L171.9 1170.6 L173.8 1175.1 L175.7 1179.5 L177.6 1183.9 L179.6 1188.3 L181.5 1192.7 L183.5 1197.1 L185.5 1201.5 L187.4 1205.8 L189.5 1210.1 L191.5 1214.4 L193.5 1218.7 L195.6 1223.0 L197.6 1227.2 L199.7 1231.5 L201.8 1235.7 L203.9 1239.9 L206.1 1244.0 L208.2 1248.1 L210.4 1252.3 L212.6 1256.3 L214.8 1260.4 L217.0 1264.4 L219.2 1268.4 L221.4 1272.4 L223.7 1276.4 L226.0 1280.3 L228.3 1284.2 L230.6 1288.1 L232.9 1292.0 L235.2 1295.8 L237.6 1299.6 L239.9 1303.3 L242.3 1307.1 L244.7 1310.8 L247.1 1314.4 L249.6 1318.1 L252.0 1321.7 L254.5 1325.3 L257.0 1328.9 L259.4 1332.4 L262.0 1335.9 L264.5 1339.3 L267.0 1342.8 L269.6 1346.2 L272.1 1349.5 L274.7 1352.9 L277.3 1356.2 L280.0 1359.4 L282.6 1362.7 L285.2 1365.9 L287.9 1369.1 L290.6 1372.2 L293.3 1375.3 L296.0 1378.4 L298.7 1381.4 L301.5 1384.4 L304.2 1387.4 L307.0 1390.4 L309.8 1393.3 L312.6 1396.2 L315.4 1399.0 L318.2 1401.8 L321.1 1404.6 L324.0 1407.4 L326.9 1410.1 L329.8 1412.8 L332.7 1415.4 L335.6 1418.0 L338.5 1420.6 L341.5 1423.2 L344.5 1425.7 L347.5 1428.2 L350.5 1430.7 L353.5 1433.1 L356.6 1435.5 L359.6 1437.8 L362.7 1440.2 L365.8 1442.5 L368.9 1444.8 L372.0 1447.0 L375.1 1449.2 L378.3 1451.4 L381.4 1453.5 L384.6 1455.6 L387.8 1457.7 L391.0 1459.8 L394.3 1461.8 L397.5 1463.8 L400.8 1465.8 L404.0 1467.7 L407.3 1469.6 L410.6 1471.5 L414.0 1473.4 L417.3 1475.2 L420.7 1477.0 L424.0 1478.7 L427.4 1480.5 L430.8 1482.2 L434.2 1483.9 L437.7 1485.5 L441.1 1487.2 L444.6 1488.8 L448.0 1490.4 L451.5 1491.9 L455.1 1493.4 L458.6 1495.0 L462.1 1496.4 L465.7 1497.9 L469.3 1499.3 L472.8 1500.7 L476.4 1502.1 L480.1 1503.4 L483.7 1504.8 L487.4 1506.1 L491.0 1507.4 L494.7 1508.6 L498.4 1509.9 L502.1 1511.1 L505.8 1512.3 L509.6 1513.5 L513.3 1514.6 L517.1 1515.7 L520.9 1516.9 L524.7 1517.9 L528.5 1519.0 L532.4 1520.1 L536.2 1521.1 L540.1 1522.1 L544.0 1523.1 L547.9 1524.1 L551.8 1525.0 L555.8 1526.0 L559.7 1526.9 L563.7 1527.8 L567.6 1528.6 L571.6 1529.5 L575.6 1530.3 L579.7 1531.2 L583.7 1532.0 L587.8 1532.8 L591.9 1533.6 L595.9 1534.3 L600.0 1535.1 L604.2 1535.8 L608.3 1536.5 L612.5 1537.2 L616.6 1537.9 L620.8 1538.6 L625.0 1539.2 L629.2 1539.9 L633.5 1540.5 L637.7 1541.1 L642.0 1541.7 L646.2 1542.3 L650.5 1542.9 L654.8 1543.4 L659.2 1544.0 L663.5 1544.5 L667.9 1545.1 L672.2 1545.6 L676.6 1546.1 L681.0 1546.6 L685.4 1547.0 L689.9 1547.5 L694.3 1548.0 L698.8 1548.4 L703.3 1548.9 L707.8 1549.3 L712.3 1549.7 L716.8 1550.1 L721.3 1550.5 L725.9 1550.9 L730.5 1551.3 L735.1 1551.6 L739.7 1552.0 L744.3 1552.4 L748.9 1552.7 L753.6 1553.0 L758.3 1553.4 L762.9 1553.7 L767.6 1554.0 L772.4 1554.3 L777.1 1554.6 L781.8 1554.9 L786.6 1555.2 L791.4 1555.4 L796.2 1555.7 L801.0 1556.0 L805.8 1556.2 L810.6 1556.5 L815.5 1556.7 L820.4 1556.9 L825.3 1557.2 L830.2 1557.4 L835.1 1557.6 L840.0 1557.8 L845.0 1558.0 L849.9 1558.2 L854.9 1558.4 L859.9 1558.6 L864.9 1558.8 L870.0 1559.0 L875.0 1559.1 L880.1 1559.3 L885.1 1559.5 L890.2 1559.6 L895.3 1559.8 L900.5 1560.0 L905.6 1560.1" stroke="#ffff00"/>
<path d="M98.3 1539.5 L99.0 1320.4 L99.4 1253.6 L99.7 1213.6 L100.3 1145.9 L100.5 1129.9 L100.9 1108.1 L101.5 1083.2 L101.6 1079.9 L102.1 1064.7 L102.8 1049.8 L102.8 1049.7 L103.4 1036.3 L103.9 1025.9 L104.0 1024.6 L104.6 1015.6 L105.1 1011.2 L105.3 1010.2 L105.9 1006.1 L106.3 1003.5 L106.5 1002.4 L107.1 999.3 L107.5 997.7 L107.7 996.9 L108.4 995.4 L108.7 994.9 L109.0 994.8 L109.6 996.9 L110.0 998.2 L110.2 999.1 L110.8 1001.3 L111.2 1002.7 L111.5 1003.5 L112.1 1005.8 L112.5 1007.2 L112.7 1008.0 L113.3 1010.1 L113.8 1011.7 L114.0 1012.3 L114.6 1014.5 L115.1 1016.3 L115.2 1016.7 L115.8 1018.8 L116.4 1020.9 L116.4 1021.0 L117.1 1023.1 L117.7 1025.3 L117.7 1025.5 L118.3 1027.4 L118.9 1029.5 L119.1 1030.1 L119.5 1031.6 L120.2 1033.7 L120.5 1034.7 L120.8 1035.8 L121.4 1037.9 L121.8 1039.3 L122.0 1039.9 L123.2 1043.9 L124.6 1048.6 L126.1 1053.2 L127.5 1057.9 L129.0 1062.6 L130.4 1067.2 L131.9 1071.9 L133.4 1076.6 L135.0 1081.3 L136.5 1086.0 L138.1 1090.7 L139.6 1095.4 L141.2 1100.1 L142.8 1104.8 L144.4 1109.5 L146.1 1114.2 L147.7 1118.8 L149.4 1123.5 L151.0 1128.2 L152.7 1132.9 L154.4 1137.5 L156.2 1142.2 L157.9 1146.8 L159.7 1151.4 L161.4 1156.1 L163.2 1160.7 L165.0 1165.3 L166.8 1169.9 L168.7 1174.4 L170.5 1179.0 L172.4 1183.5 L174.3 1188.0 L176.2 1192.6 L178.1 1197.0 L180.0 1201.5 L182.0 1206.0 L183.9 1210.4 L185.9 1214.8 L187.9 1219.2 L189.9 1223.6 L191.9 1227.9 L193.9 1232.3 L196.0 1236.6 L198.1 1240.9 L200.1 1245.1 L202.2 1249.3 L204.4 1253.6 L206.5 1257.7 L208.6 1261.9 L210.8 1266.0 L213.0 1270.1 L215.2 1274.2 L217.4 1278.2 L219.6 1282.3 L221.9 1286.3 L224.1 1290.2 L226.4 1294.1 L228.7 1298.0 L231.0 1301.9 L233.3 1305.8 L235.6 1309.6 L238.0 1313.3 L240.3 1317.1 L242.7 1320.8 L245.1 1324.5 L247.5 1328.2 L250.0 1331.8 L252.4 1335.4 L254.9 1338.9 L257.3 1342.4 L259.8 1345.9 L262.3 1349.4 L264.9 1352.8 L267.4 1356.2 L270.0 1359.5 L272.5 1362.9 L275.1 1366.1 L277.7 1369.4 L280.3 1372.6 L283.0 1375.8 L285.6 1379.0 L288.3 1382.1 L291.0 1385.1 L293.6 1388.2 L296.4 1391.2 L299.1 1394.2 L301.8 1397.1 L304.6 1400.0 L307.4 1402.9 L310.1 1405.7 L312.9 1408.6 L315.8 1411.3 L318.6 1414.1 L321.5 1416.8 L324.3 1419.4 L327.2 1422.1 L330.1 1424.7 L333.0 1427.2 L335.9 1429.8 L338.9 1432.3 L341.8 1434.7 L344.8 1437.2 L347.8 1439.6 L350.8 1441.9 L353.8 1444.3 L356.9 1446.6 L359.9 1448.8 L363.0 1451.1 L366.1 1453.3 L369.2 1455.5 L372.3 1457.6 L375.4 1459.7 L378.6 1461.8 L381.8 1463.8 L384.9 1465.9 L388.1 1467.8 L391.3 1469.8 L394.6 1471.7 L397.8 1473.6 L401.1 1475.5 L404.3 1477.3 L407.6 1479.1 L410.9 1480.9 L414.3 1482.7 L417.6 1484.4 L420.9 1486.1 L424.3 1487.7 L427.7 1489.4 L431.1 1491.0 L434.5 1492.6 L437.9 1494.1 L441.4 1495.7 L444.8 1497.2 L448.3 1498.6 L451.8 1500.1 L455.3 1501.5 L458.8 1502.9 L462.4 1504.3 L465.9 1505.6 L469.5 1507.0 L473.1 1508.3 L476.7 1509.5 L480.3 1510.8 L484.0 1512.0 L487.6 1513.2 L491.3 1514.4 L494.9 1515.6 L498.6 1516.7 L502.4 1517.8 L506.1 1518.9 L509.8 1520.0 L513.6 1521.1 L517.4 1522.1 L521.1 1523.1 L525.0 1524.1 L528.8 1525.1 L532.6 1526.0 L536.5 1527.0 L540.3 1527.9 L544.2 1528.8 L548.1 1529.7 L552.0 1530.5 L556.0 1531.4 L559.9 1532.2 L563.9 1533.0 L567.8 1533.8 L571.8 1534.6 L575.8 1535.3 L579.9 1536.1 L583.9 1536.8 L588.0 1537.5 L592.0 1538.2 L596.1 1538.9 L600.2 1539.6 L604.3 1540.2 L608.5 1540.9 L612.6 1541.5 L616.8 1542.1 L621.0 1542.7 L625.2 1543.3 L629.4 1543.8 L633.6 1544.4 L637.9 1544.9 L642.1 1545.5 L646.4 1546.0 L650.7 1546.5 L655.0 1547.0 L659.3 1547.5 L663.6 1547.9 L668.0 1548.4 L672.4 1548.8 L676.8 1549.3 L681.2 1549.7 L685.6 1550.1 L690.0 1550.5 L694.4 1550.9 L698.9 1551.3 L703.4 1551.7 L707.9 1552.1 L712.4 1552.4 L716.9 1552.8 L721.5 1553.1 L726.0 1553.4 L730.6 1553.8 L735.2 1554.1 L739.8 1554.4 L744.4 1554.7 L749.0 1555.0 L753.7 1555.3 L758.3 1555.6 L763.0 1555.8 L767.7 1556.1 L772.4 1556.3 L777.2 1556.6 L781.9 1556.8 L786.7 1557.1 L791.4 1557.3 L796.2 1557.5 L801.0 1557.7 L805.9 1558.0 L810.7 1558.2 L815.6 1558.4 L820.4 1558.6 L825.3 1558.8 L830.2 1558.9 L835.1 1559.1 L840.1 1559.3 L845.0 1559.5 L850.0 1559.6 L855.0 1559.8 L859.9 1559.9 L865.0 1560.1 L870.0 1560.2 L875.0 1560.4 L880.1 1560.5 L885.2 1560.7 L890.2 1560.8 L895.3 1560.9 L900.5 1561.0 L905.6 1561.2" stroke="#00ff00"/>
</g>
<text transform="translate(97.8 1594.0) scale(1.03 1)" text-anchor="middle" font-family='"Liberation Sans", Arial, Helvetica, sans-serif' font-size="23">0</text>
<text transform="translate(177.6 1594.0) scale(1.03 1)" text-anchor="middle" font-family='"Liberation Sans", Arial, Helvetica, sans-serif' font-size="23">1</text>
<text transform="translate(257.7 1594.0) scale(1.03 1)" text-anchor="middle" font-family='"Liberation Sans", Arial, Helvetica, sans-serif' font-size="23">2</text>
<text transform="translate(339.3 1594.0) scale(1.03 1)" text-anchor="middle" font-family='"Liberation Sans", Arial, Helvetica, sans-serif' font-size="23">3</text>
<text transform="translate(419.9 1594.0) scale(1.03 1)" text-anchor="middle" font-family='"Liberation Sans", Arial, Helvetica, sans-serif' font-size="23">4</text>
<text transform="translate(501.7 1594.0) scale(1.03 1)" text-anchor="middle" font-family='"Liberation Sans", Arial, Helvetica, sans-serif' font-size="23">5</text>
<text transform="translate(581.8 1594.0) scale(1.03 1)" text-anchor="middle" font-family='"Liberation Sans", Arial, Helvetica, sans-serif' font-size="23">6</text>
<text transform="translate(662.1 1594.0) scale(1.03 1)" text-anchor="middle" font-family='"Liberation Sans", Arial, Helvetica, sans-serif' font-size="23">7</text>
<text transform="translate(744.0 1594.0) scale(1.03 1)" text-anchor="middle" font-family='"Liberation Sans", Arial, Helvetica, sans-serif' font-size="23">8</text>
<text transform="translate(823.8 1594.0) scale(1.03 1)" text-anchor="middle" font-family='"Liberation Sans", Arial, Helvetica, sans-serif' font-size="23">9</text>
<text transform="translate(905.6 1594.0) scale(1.03 1)" text-anchor="middle" font-family='"Liberation Sans", Arial, Helvetica, sans-serif' font-size="23">10</text>
<text transform="translate(89.8 1573.5) scale(0.98 1)" text-anchor="end" font-family='"Liberation Sans", Arial, Helvetica, sans-serif' font-size="23">0</text>
<text transform="translate(89.8 1510.3) scale(0.98 1)" text-anchor="end" font-family='"Liberation Sans", Arial, Helvetica, sans-serif' font-size="23">200</text>
<text transform="translate(89.8 1447.0) scale(0.98 1)" text-anchor="end" font-family='"Liberation Sans", Arial, Helvetica, sans-serif' font-size="23">400</text>
<text transform="translate(89.8 1383.8) scale(0.98 1)" text-anchor="end" font-family='"Liberation Sans", Arial, Helvetica, sans-serif' font-size="23">600</text>
<text transform="translate(89.8 1320.6) scale(0.98 1)" text-anchor="end" font-family='"Liberation Sans", Arial, Helvetica, sans-serif' font-size="23">800</text>
<text transform="translate(89.8 1257.4) scale(0.98 1)" text-anchor="end" font-family='"Liberation Sans", Arial, Helvetica, sans-serif' font-size="23">1000</text>
<text transform="translate(89.8 1194.1) scale(0.98 1)" text-anchor="end" font-family='"Liberation Sans", Arial, Helvetica, sans-serif' font-size="23">1200</text>
<text transform="translate(89.8 1130.9) scale(0.98 1)" text-anchor="end" font-family='"Liberation Sans", Arial, Helvetica, sans-serif' font-size="23">1400</text>
<text transform="translate(89.8 1067.7) scale(0.98 1)" text-anchor="end" font-family='"Liberation Sans", Arial, Helvetica, sans-serif' font-size="23">1600</text>
<text transform="translate(89.8 1004.4) scale(0.98 1)" text-anchor="end" font-family='"Liberation Sans", Arial, Helvetica, sans-serif' font-size="23">1800</text>
<text transform="translate(89.8 941.2) scale(0.98 1)" text-anchor="end" font-family='"Liberation Sans", Arial, Helvetica, sans-serif' font-size="23">2000</text>
<text x="270.2" y="911.9" font-family='"Liberation Sans", Arial, Helvetica, sans-serif' font-size="23" textLength="464.8" lengthAdjust="spacingAndGlyphs">Effect of treatment on inflammatory group A</text>
<text x="432.9" y="1625.1" font-family='"Liberation Sans", Arial, Helvetica, sans-serif' font-size="23" textLength="136.0" lengthAdjust="spacingAndGlyphs">Time in days</text>
<text transform="translate(18.1 1245.8) rotate(-90)" font-family='"Liberation Sans", Arial, Helvetica, sans-serif' font-size="23.3" text-anchor="middle" textLength="430.4" lengthAdjust="spacingAndGlyphs">Initial tinea capitis inflammatory group A</text>
<rect x="705.0" y="946.1" width="191.2" height="151.5" fill="#fff" stroke="#000" stroke-width="2.8"/>
<line x1="719.5" y1="973.3" x2="794.4" y2="973.3" stroke="#ff0000" stroke-width="9.5"/>
<text x="803.9" y="976.6" font-family='"Liberation Sans", Arial, Helvetica, sans-serif' font-size="23.3" textLength="83.3" lengthAdjust="spacingAndGlyphs"><tspan font-family='"Liberation Serif", "Times New Roman", serif' font-size="28">&#949;</tspan><tspan font-size="20" dy="11.5">2</tspan><tspan dy="-11.5">=0.23</tspan></text>
<line x1="719.5" y1="1021.5" x2="794.4" y2="1021.5" stroke="#ffff00" stroke-width="9.5"/>
<text x="803.9" y="1026.0" font-family='"Liberation Sans", Arial, Helvetica, sans-serif' font-size="23.3" textLength="83.3" lengthAdjust="spacingAndGlyphs"><tspan font-family='"Liberation Serif", "Times New Roman", serif' font-size="28">&#949;</tspan><tspan font-size="20" dy="11.5">2</tspan><tspan dy="-11.5">=0.36</tspan></text>
<line x1="719.5" y1="1067.6" x2="794.4" y2="1067.6" stroke="#00ff00" stroke-width="9.5"/>
<text x="803.9" y="1074.6" font-family='"Liberation Sans", Arial, Helvetica, sans-serif' font-size="23.3" textLength="83.3" lengthAdjust="spacingAndGlyphs"><tspan font-family='"Liberation Serif", "Times New Roman", serif' font-size="28">&#949;</tspan><tspan font-size="20" dy="11.5">2</tspan><tspan dy="-11.5">=0.46</tspan></text>
<g stroke="#000" stroke-width="1.9" fill="none">
<line x1="1432.3" y1="1599.8" x2="1432.3" y2="1591.3"/><line x1="1432.3" y1="954.9" x2="1432.3" y2="963.4"/>
<line x1="1711.1" y1="1599.8" x2="1711.1" y2="1591.3"/><line x1="1711.1" y1="954.9" x2="1711.1" y2="963.4"/>
<line x1="1155.4" y1="1492.6" x2="1163.9" y2="1492.6"/><line x1="1990.0" y1="1492.6" x2="1981.5" y2="1492.6"/>
<line x1="1155.4" y1="1385.4" x2="1163.9" y2="1385.4"/><line x1="1990.0" y1="1385.4" x2="1981.5" y2="1385.4"/>
<line x1="1155.4" y1="1278.2" x2="1163.9" y2="1278.2"/><line x1="1990.0" y1="1278.2" x2="1981.5" y2="1278.2"/>
<line x1="1155.4" y1="1170.9" x2="1163.9" y2="1170.9"/><line x1="1990.0" y1="1170.9" x2="1981.5" y2="1170.9"/>
<line x1="1155.4" y1="1063.7" x2="1163.9" y2="1063.7"/><line x1="1990.0" y1="1063.7" x2="1981.5" y2="1063.7"/>
<line x1="1155.4" y1="956.5" x2="1163.9" y2="956.5"/><line x1="1990.0" y1="956.5" x2="1981.5" y2="956.5"/>
</g>
<rect x="1155.4" y="954.9" width="834.6" height="644.9" fill="none" stroke="#000" stroke-width="2.2"/>
<line x1="1155.4" y1="953.8" x2="1155.4" y2="1600.9" stroke="#000" stroke-width="2.75"/>
<clipPath id="clip4"><rect x="1154.1" y="954.9" width="836.9" height="644.9"/></clipPath>
<g clip-path="url(#clip4)" fill="none" stroke-width="10.8" stroke-linejoin="round" stroke-linecap="butt">
<path d="M1157.1 1485.7 L1158.2 1479.4 L1159.4 1473.2 L1160.5 1467.1 L1161.7 1461.1 L1162.9 1455.1 L1164.1 1449.2 L1165.3 1443.3 L1166.6 1437.5 L1167.9 1431.8 L1169.1 1426.1 L1170.4 1420.4 L1171.7 1414.7 L1173.1 1409.1 L1174.4 1403.5 L1175.8 1397.9 L1177.1 1392.4 L1178.5 1387.0 L1179.9 1381.5 L1181.4 1376.2 L1182.8 1370.8 L1184.3 1365.6 L1185.7 1360.3 L1187.2 1355.1 L1188.7 1350.0 L1190.3 1344.9 L1191.8 1339.9 L1193.3 1335.0 L1194.9 1330.1 L1196.5 1325.2 L1198.1 1320.4 L1199.7 1315.7 L1201.4 1311.0 L1203.0 1306.4 L1204.7 1301.9 L1206.4 1297.4 L1208.1 1292.9 L1209.8 1288.6 L1211.5 1284.2 L1213.2 1280.0 L1215.0 1275.8 L1216.8 1271.6 L1218.6 1267.5 L1220.4 1263.5 L1222.2 1259.4 L1224.1 1255.5 L1225.9 1251.6 L1227.8 1247.7 L1229.7 1243.9 L1231.6 1240.1 L1233.5 1236.4 L1235.5 1232.7 L1237.4 1229.0 L1239.4 1225.4 L1241.4 1221.9 L1243.4 1218.3 L1245.4 1214.9 L1247.4 1211.4 L1249.5 1208.0 L1251.6 1204.7 L1253.7 1201.4 L1255.8 1198.1 L1257.9 1194.9 L1260.0 1191.7 L1262.2 1188.6 L1264.3 1185.6 L1266.5 1182.6 L1268.7 1179.6 L1270.9 1176.7 L1273.2 1173.8 L1275.4 1171.0 L1277.7 1168.3 L1280.0 1165.6 L1282.2 1163.0 L1284.6 1160.4 L1286.9 1157.9 L1289.2 1155.5 L1291.6 1153.1 L1294.0 1150.7 L1296.4 1148.4 L1298.8 1146.2 L1301.2 1144.1 L1303.6 1141.9 L1306.1 1139.9 L1308.6 1137.9 L1311.1 1135.9 L1313.6 1134.0 L1316.1 1132.2 L1318.6 1130.4 L1321.2 1128.6 L1323.7 1126.9 L1326.3 1125.2 L1328.9 1123.5 L1331.6 1121.9 L1334.2 1120.3 L1336.8 1118.7 L1339.5 1117.1 L1342.2 1115.6 L1344.9 1114.1 L1347.6 1112.7 L1350.3 1111.2 L1353.1 1109.8 L1355.8 1108.4 L1358.6 1107.1 L1361.4 1105.7 L1364.2 1104.4 L1367.1 1103.1 L1369.9 1101.8 L1372.8 1100.6 L1375.6 1099.4 L1378.5 1098.2 L1381.5 1097.1 L1384.4 1095.9 L1387.3 1094.8 L1390.3 1093.8 L1393.2 1092.7 L1396.2 1091.7 L1399.2 1090.7 L1402.3 1089.8 L1405.3 1088.8 L1408.4 1087.9 L1411.4 1087.0 L1414.5 1086.2 L1417.6 1085.4 L1420.7 1084.5 L1423.9 1083.8 L1427.0 1083.0 L1430.2 1082.3 L1433.4 1081.5 L1436.6 1080.8 L1439.8 1080.2 L1443.0 1079.5 L1446.3 1078.9 L1449.5 1078.3 L1452.8 1077.7 L1456.1 1077.1 L1459.4 1076.6 L1462.8 1076.1 L1466.1 1075.5 L1469.5 1075.1 L1472.8 1074.6 L1476.2 1074.1 L1479.6 1073.7 L1483.1 1073.3 L1486.5 1072.9 L1490.0 1072.5 L1493.4 1072.1 L1496.9 1071.7 L1500.4 1071.4 L1504.0 1071.1 L1507.5 1070.8 L1511.1 1070.5 L1514.6 1070.2 L1518.2 1069.9 L1521.8 1069.6 L1525.4 1069.4 L1529.1 1069.2 L1532.7 1069.0 L1536.4 1068.8 L1540.1 1068.6 L1543.8 1068.4 L1547.5 1068.2 L1551.2 1068.1 L1555.0 1068.0 L1558.7 1067.8 L1562.5 1067.7 L1566.3 1067.6 L1570.1 1067.6 L1574.0 1067.5 L1577.8 1067.4 L1581.7 1067.4 L1585.5 1067.3 L1589.4 1067.3 L1593.3 1067.3 L1597.3 1067.3 L1601.2 1067.3 L1605.2 1067.4 L1609.2 1067.4 L1613.1 1067.5 L1617.1 1067.5 L1621.2 1067.6 L1625.2 1067.7 L1629.3 1067.8 L1633.3 1067.9 L1637.4 1068.0 L1641.5 1068.2 L1645.6 1068.3 L1649.8 1068.5 L1653.9 1068.6 L1658.1 1068.8 L1662.3 1069.0 L1666.5 1069.2 L1670.7 1069.4 L1674.9 1069.6 L1679.2 1069.8 L1683.5 1070.1 L1687.7 1070.3 L1692.0 1070.6 L1696.3 1070.9 L1700.7 1071.1 L1705.0 1071.4 L1709.4 1071.7 L1713.8 1072.0 L1718.2 1072.3 L1722.6 1072.6 L1727.0 1072.9 L1731.4 1073.3 L1735.9 1073.6 L1740.4 1074.0 L1744.9 1074.3 L1749.4 1074.7 L1753.9 1075.1 L1758.4 1075.4 L1763.0 1075.8 L1767.6 1076.2 L1772.1 1076.6 L1776.8 1077.0 L1781.4 1077.4 L1786.0 1077.8 L1790.7 1078.3 L1795.3 1078.7 L1800.0 1079.1 L1804.7 1079.6 L1809.4 1080.0 L1814.2 1080.5 L1818.9 1080.9 L1823.7 1081.4 L1828.5 1081.9 L1833.3 1082.3 L1838.1 1082.8 L1842.9 1083.3 L1847.8 1083.8 L1852.6 1084.2 L1857.5 1084.7 L1862.4 1085.2 L1867.3 1085.7 L1872.2 1086.2 L1877.2 1086.7 L1882.1 1087.2 L1887.1 1087.7 L1892.1 1088.2 L1897.1 1088.7 L1902.1 1089.2 L1907.2 1089.7 L1912.2 1090.2 L1917.3 1090.7 L1922.4 1091.2 L1927.5 1091.7 L1932.6 1092.3 L1937.7 1092.8 L1942.9 1093.3 L1948.1 1093.8 L1953.3 1094.3 L1958.5 1094.8 L1963.7 1095.3 L1968.9 1095.8 L1974.2 1096.3 L1979.4 1096.8 L1984.7 1097.3 L1990.0 1097.8" stroke="#ffff00"/>
<path d="M1157.1 1488.9 L1158.2 1482.6 L1159.4 1476.3 L1160.5 1470.1 L1161.7 1464.1 L1162.9 1458.0 L1164.1 1452.1 L1165.3 1446.2 L1166.6 1440.3 L1167.9 1434.5 L1169.1 1428.8 L1170.4 1423.0 L1171.7 1417.3 L1173.1 1411.6 L1174.4 1406.0 L1175.8 1400.4 L1177.1 1394.8 L1178.5 1389.3 L1179.9 1383.8 L1181.4 1378.4 L1182.8 1373.0 L1184.3 1367.6 L1185.7 1362.3 L1187.2 1357.1 L1188.7 1351.9 L1190.3 1346.8 L1191.8 1341.7 L1193.3 1336.7 L1194.9 1331.8 L1196.5 1326.9 L1198.1 1322.0 L1199.7 1317.2 L1201.4 1312.5 L1203.0 1307.9 L1204.7 1303.2 L1206.4 1298.7 L1208.1 1294.2 L1209.8 1289.7 L1211.5 1285.4 L1213.2 1281.0 L1215.0 1276.7 L1216.8 1272.5 L1218.6 1268.3 L1220.4 1264.1 L1222.2 1260.0 L1224.1 1256.0 L1225.9 1251.9 L1227.8 1247.9 L1229.7 1244.0 L1231.6 1240.1 L1233.5 1236.2 L1235.5 1232.3 L1237.4 1228.5 L1239.4 1224.7 L1241.4 1221.0 L1243.4 1217.3 L1245.4 1213.6 L1247.4 1210.0 L1249.5 1206.4 L1251.6 1202.8 L1253.7 1199.3 L1255.8 1195.8 L1257.9 1192.4 L1260.0 1189.0 L1262.2 1185.6 L1264.3 1182.3 L1266.5 1179.0 L1268.7 1175.8 L1270.9 1172.6 L1273.2 1169.4 L1275.4 1166.4 L1277.7 1163.3 L1280.0 1160.3 L1282.2 1157.4 L1284.6 1154.5 L1286.9 1151.7 L1289.2 1148.9 L1291.6 1146.2 L1294.0 1143.5 L1296.4 1140.9 L1298.8 1138.4 L1301.2 1135.9 L1303.6 1133.4 L1306.1 1131.0 L1308.6 1128.7 L1311.1 1126.4 L1313.6 1124.2 L1316.1 1122.1 L1318.6 1120.0 L1321.2 1117.9 L1323.7 1115.9 L1326.3 1113.9 L1328.9 1112.0 L1331.6 1110.1 L1334.2 1108.3 L1336.8 1106.5 L1339.5 1104.7 L1342.2 1102.9 L1344.9 1101.2 L1347.6 1099.5 L1350.3 1097.9 L1353.1 1096.2 L1355.8 1094.6 L1358.6 1093.0 L1361.4 1091.4 L1364.2 1089.9 L1367.1 1088.4 L1369.9 1086.9 L1372.8 1085.4 L1375.6 1084.0 L1378.5 1082.6 L1381.5 1081.2 L1384.4 1079.9 L1387.3 1078.6 L1390.3 1077.3 L1393.2 1076.0 L1396.2 1074.8 L1399.2 1073.6 L1402.3 1072.4 L1405.3 1071.3 L1408.4 1070.1 L1411.4 1069.0 L1414.5 1068.0 L1417.6 1066.9 L1420.7 1065.9 L1423.9 1064.9 L1427.0 1063.9 L1430.2 1063.0 L1433.4 1062.0 L1436.6 1061.1 L1439.8 1060.3 L1443.0 1059.4 L1446.3 1058.6 L1449.5 1057.8 L1452.8 1057.0 L1456.1 1056.2 L1459.4 1055.4 L1462.8 1054.7 L1466.1 1054.0 L1469.5 1053.3 L1472.8 1052.6 L1476.2 1051.9 L1479.6 1051.3 L1483.1 1050.7 L1486.5 1050.1 L1490.0 1049.5 L1493.4 1048.9 L1496.9 1048.3 L1500.4 1047.8 L1504.0 1047.2 L1507.5 1046.7 L1511.1 1046.2 L1514.6 1045.7 L1518.2 1045.2 L1521.8 1044.8 L1525.4 1044.3 L1529.1 1043.9 L1532.7 1043.5 L1536.4 1043.1 L1540.1 1042.7 L1543.8 1042.3 L1547.5 1042.0 L1551.2 1041.6 L1555.0 1041.3 L1558.7 1041.0 L1562.5 1040.7 L1566.3 1040.4 L1570.1 1040.2 L1574.0 1039.9 L1577.8 1039.7 L1581.7 1039.5 L1585.5 1039.3 L1589.4 1039.1 L1593.3 1039.0 L1597.3 1038.8 L1601.2 1038.7 L1605.2 1038.5 L1609.2 1038.4 L1613.1 1038.4 L1617.1 1038.3 L1621.2 1038.2 L1625.2 1038.2 L1629.3 1038.1 L1633.3 1038.1 L1637.4 1038.1 L1641.5 1038.2 L1645.6 1038.2 L1649.8 1038.2 L1653.9 1038.3 L1658.1 1038.4 L1662.3 1038.4 L1666.5 1038.5 L1670.7 1038.7 L1674.9 1038.8 L1679.2 1038.9 L1683.5 1039.1 L1687.7 1039.2 L1692.0 1039.4 L1696.3 1039.6 L1700.7 1039.8 L1705.0 1040.0 L1709.4 1040.2 L1713.8 1040.5 L1718.2 1040.7 L1722.6 1041.0 L1727.0 1041.2 L1731.4 1041.5 L1735.9 1041.8 L1740.4 1042.1 L1744.9 1042.4 L1749.4 1042.7 L1753.9 1043.0 L1758.4 1043.4 L1763.0 1043.7 L1767.6 1044.0 L1772.1 1044.4 L1776.8 1044.8 L1781.4 1045.1 L1786.0 1045.5 L1790.7 1045.9 L1795.3 1046.3 L1800.0 1046.7 L1804.7 1047.1 L1809.4 1047.5 L1814.2 1047.9 L1818.9 1048.3 L1823.7 1048.8 L1828.5 1049.2 L1833.3 1049.6 L1838.1 1050.1 L1842.9 1050.5 L1847.8 1050.9 L1852.6 1051.4 L1857.5 1051.8 L1862.4 1052.3 L1867.3 1052.8 L1872.2 1053.2 L1877.2 1053.7 L1882.1 1054.1 L1887.1 1054.6 L1892.1 1055.0 L1897.1 1055.5 L1902.1 1056.0 L1907.2 1056.4 L1912.2 1056.9 L1917.3 1057.4 L1922.4 1057.8 L1927.5 1058.3 L1932.6 1058.8 L1937.7 1059.2 L1942.9 1059.7 L1948.1 1060.2 L1953.3 1060.6 L1958.5 1061.1 L1963.7 1061.6 L1968.9 1062.0 L1974.2 1062.5 L1979.4 1062.9 L1984.7 1063.4 L1990.0 1063.9" stroke="#0000ff"/>
<path d="M1157.1 1546.2 L1157.1 1492.5 L1158.2 1486.4 L1159.4 1480.5 L1160.5 1474.6 L1161.7 1468.8 L1162.9 1463.0 L1164.1 1457.1 L1165.3 1451.3 L1166.6 1445.5 L1167.9 1439.6 L1169.1 1433.8 L1170.4 1427.9 L1171.7 1422.1 L1173.1 1416.3 L1174.4 1410.5 L1175.8 1404.7 L1177.1 1399.0 L1178.5 1393.3 L1179.9 1387.6 L1181.4 1382.0 L1182.8 1376.4 L1184.3 1370.9 L1185.7 1365.4 L1187.2 1360.0 L1188.7 1354.6 L1190.3 1349.3 L1191.8 1344.1 L1193.3 1338.9 L1194.9 1333.8 L1196.5 1328.7 L1198.1 1323.8 L1199.7 1318.8 L1201.4 1314.0 L1203.0 1309.2 L1204.7 1304.5 L1206.4 1299.9 L1208.1 1295.3 L1209.8 1290.8 L1211.5 1286.4 L1213.2 1282.1 L1215.0 1277.9 L1216.8 1273.7 L1218.6 1269.5 L1220.4 1265.5 L1222.2 1261.4 L1224.1 1257.4 L1225.9 1253.4 L1227.8 1249.5 L1229.7 1245.5 L1231.6 1241.6 L1233.5 1237.7 L1235.5 1233.9 L1237.4 1230.0 L1239.4 1226.2 L1241.4 1222.4 L1243.4 1218.6 L1245.4 1214.8 L1247.4 1211.0 L1249.5 1207.2 L1251.6 1203.5 L1253.7 1199.7 L1255.8 1196.0 L1257.9 1192.3 L1260.0 1188.7 L1262.2 1185.0 L1264.3 1181.4 L1266.5 1177.8 L1268.7 1174.2 L1270.9 1170.7 L1273.2 1167.2 L1275.4 1163.7 L1277.7 1160.3 L1280.0 1156.9 L1282.2 1153.6 L1284.6 1150.3 L1286.9 1147.0 L1289.2 1143.8 L1291.6 1140.6 L1294.0 1137.5 L1296.4 1134.4 L1298.8 1131.4 L1301.2 1128.4 L1303.6 1125.5 L1306.1 1122.6 L1308.6 1119.8 L1311.1 1117.0 L1313.6 1114.3 L1316.1 1111.7 L1318.6 1109.1 L1321.2 1106.5 L1323.7 1104.0 L1326.3 1101.6 L1328.9 1099.2 L1331.6 1096.9 L1334.2 1094.6 L1336.8 1092.3 L1339.5 1090.1 L1342.2 1088.0 L1344.9 1085.9 L1347.6 1083.8 L1350.3 1081.8 L1353.1 1079.8 L1355.8 1077.9 L1358.6 1076.0 L1361.4 1074.2 L1364.2 1072.4 L1367.1 1070.6 L1369.9 1068.9 L1372.8 1067.2 L1375.6 1065.6 L1378.5 1064.0 L1381.5 1062.4 L1384.4 1060.9 L1387.3 1059.4 L1390.3 1057.9 L1393.2 1056.5 L1396.2 1055.1 L1399.2 1053.7 L1402.3 1052.4 L1405.3 1051.1 L1408.4 1049.8 L1411.4 1048.5 L1414.5 1047.3 L1417.6 1046.1 L1420.7 1044.9 L1423.9 1043.8 L1427.0 1042.6 L1430.2 1041.5 L1433.4 1040.4 L1436.6 1039.4 L1439.8 1038.3 L1443.0 1037.3 L1446.3 1036.3 L1449.5 1035.3 L1452.8 1034.3 L1456.1 1033.4 L1459.4 1032.5 L1462.8 1031.5 L1466.1 1030.6 L1469.5 1029.8 L1472.8 1028.9 L1476.2 1028.0 L1479.6 1027.2 L1483.1 1026.4 L1486.5 1025.6 L1490.0 1024.9 L1493.4 1024.1 L1496.9 1023.4 L1500.4 1022.7 L1504.0 1022.0 L1507.5 1021.3 L1511.1 1020.7 L1514.6 1020.0 L1518.2 1019.4 L1521.8 1018.8 L1525.4 1018.2 L1529.1 1017.7 L1532.7 1017.1 L1536.4 1016.6 L1540.1 1016.1 L1543.8 1015.6 L1547.5 1015.1 L1551.2 1014.6 L1555.0 1014.2 L1558.7 1013.8 L1562.5 1013.3 L1566.3 1012.9 L1570.1 1012.6 L1574.0 1012.2 L1577.8 1011.8 L1581.7 1011.5 L1585.5 1011.2 L1589.4 1010.9 L1593.3 1010.6 L1597.3 1010.3 L1601.2 1010.0 L1605.2 1009.8 L1609.2 1009.6 L1613.1 1009.3 L1617.1 1009.1 L1621.2 1008.9 L1625.2 1008.8 L1629.3 1008.6 L1633.3 1008.4 L1637.4 1008.3 L1641.5 1008.2 L1645.6 1008.1 L1649.8 1008.0 L1653.9 1007.9 L1658.1 1007.8 L1662.3 1007.8 L1666.5 1007.7 L1670.7 1007.7 L1674.9 1007.7 L1679.2 1007.6 L1683.5 1007.6 L1687.7 1007.7 L1692.0 1007.7 L1696.3 1007.7 L1700.7 1007.8 L1705.0 1007.8 L1709.4 1007.9 L1713.8 1008.0 L1718.2 1008.1 L1722.6 1008.2 L1727.0 1008.3 L1731.4 1008.4 L1735.9 1008.6 L1740.4 1008.7 L1744.9 1008.9 L1749.4 1009.1 L1753.9 1009.2 L1758.4 1009.4 L1763.0 1009.6 L1767.6 1009.8 L1772.1 1010.1 L1776.8 1010.3 L1781.4 1010.5 L1786.0 1010.8 L1790.7 1011.0 L1795.3 1011.3 L1800.0 1011.6 L1804.7 1011.8 L1809.4 1012.1 L1814.2 1012.4 L1818.9 1012.7 L1823.7 1013.0 L1828.5 1013.3 L1833.3 1013.6 L1838.1 1013.9 L1842.9 1014.3 L1847.8 1014.6 L1852.6 1014.9 L1857.5 1015.3 L1862.4 1015.6 L1867.3 1016.0 L1872.2 1016.3 L1877.2 1016.7 L1882.1 1017.0 L1887.1 1017.4 L1892.1 1017.7 L1897.1 1018.1 L1902.1 1018.5 L1907.2 1018.8 L1912.2 1019.2 L1917.3 1019.6 L1922.4 1019.9 L1927.5 1020.3 L1932.6 1020.7 L1937.7 1021.0 L1942.9 1021.4 L1948.1 1021.8 L1953.3 1022.2 L1958.5 1022.5 L1963.7 1022.9 L1968.9 1023.3 L1974.2 1023.7 L1979.4 1024.0 L1984.7 1024.4 L1990.0 1024.8" stroke="#000000"/>
</g>
<text transform="translate(1155.4 1627.5) scale(1.0 1)" text-anchor="middle" font-family='"Liberation Sans", Arial, Helvetica, sans-serif' font-size="24.5">0</text>
<text transform="translate(1432.3 1627.5) scale(1.0 1)" text-anchor="middle" font-family='"Liberation Sans", Arial, Helvetica, sans-serif' font-size="24.5">5</text>
<text transform="translate(1711.1 1627.5) scale(1.0 1)" text-anchor="middle" font-family='"Liberation Sans", Arial, Helvetica, sans-serif' font-size="24.5">10</text>
<text transform="translate(1990.0 1627.5) scale(1.0 1)" text-anchor="middle" font-family='"Liberation Sans", Arial, Helvetica, sans-serif' font-size="24.5">15</text>
<text transform="translate(1146.9 1608.8) scale(1.0 1)" text-anchor="end" font-family='"Liberation Sans", Arial, Helvetica, sans-serif' font-size="24.5">300</text>
<text transform="translate(1146.9 1501.6) scale(1.0 1)" text-anchor="end" font-family='"Liberation Sans", Arial, Helvetica, sans-serif' font-size="24.5">400</text>
<text transform="translate(1146.9 1394.4) scale(1.0 1)" text-anchor="end" font-family='"Liberation Sans", Arial, Helvetica, sans-serif' font-size="24.5">500</text>
<text transform="translate(1146.9 1287.2) scale(1.0 1)" text-anchor="end" font-family='"Liberation Sans", Arial, Helvetica, sans-serif' font-size="24.5">600</text>
<text transform="translate(1146.9 1179.9) scale(1.0 1)" text-anchor="end" font-family='"Liberation Sans", Arial, Helvetica, sans-serif' font-size="24.5">700</text>
<text transform="translate(1146.9 1072.7) scale(1.0 1)" text-anchor="end" font-family='"Liberation Sans", Arial, Helvetica, sans-serif' font-size="24.5">800</text>
<text transform="translate(1146.9 965.5) scale(1.0 1)" text-anchor="end" font-family='"Liberation Sans", Arial, Helvetica, sans-serif' font-size="24.5">900</text>
<text x="1501.8" y="1659.8" font-family='"Liberation Sans", Arial, Helvetica, sans-serif' font-size="23.3" textLength="139.1" lengthAdjust="spacingAndGlyphs">Time in days</text>
<text transform="translate(1085.6 1278.5) rotate(-90)" font-family='"Liberation Sans", Arial, Helvetica, sans-serif' font-size="23.3" text-anchor="middle" textLength="341.5" lengthAdjust="spacingAndGlyphs">Tinea capitis recovered group R</text>
<rect x="1788.4" y="954.7" width="198.4" height="154.4" fill="#fff" stroke="#000" stroke-width="2.0"/>
<line x1="1803.4" y1="983.1" x2="1881.2" y2="983.1" stroke="#ffff00" stroke-width="10"/>
<text x="1890.7" y="986.8" font-family='"Liberation Sans", Arial, Helvetica, sans-serif' font-size="23.3" textLength="86.1" lengthAdjust="spacingAndGlyphs"><tspan font-family='"Liberation Serif", "Times New Roman", serif' font-size="28">&#949;</tspan><tspan font-size="20" dy="11.5">2</tspan><tspan dy="-11.5">=0.38</tspan></text>
<line x1="1803.4" y1="1031.7" x2="1881.2" y2="1031.7" stroke="#0000ff" stroke-width="10"/>
<text x="1890.7" y="1037.2" font-family='"Liberation Sans", Arial, Helvetica, sans-serif' font-size="23.3" textLength="86.1" lengthAdjust="spacingAndGlyphs"><tspan font-family='"Liberation Serif", "Times New Roman", serif' font-size="28">&#949;</tspan><tspan font-size="20" dy="11.5">2</tspan><tspan dy="-11.5">=0.41</tspan></text>
<line x1="1803.4" y1="1079.6" x2="1881.2" y2="1079.6" stroke="#000000" stroke-width="10"/>
<text x="1890.7" y="1085.9" font-family='"Liberation Sans", Arial, Helvetica, sans-serif' font-size="23.3" textLength="86.1" lengthAdjust="spacingAndGlyphs"><tspan font-family='"Liberation Serif", "Times New Roman", serif' font-size="28">&#949;</tspan><tspan font-size="20" dy="11.5">2</tspan><tspan dy="-11.5">=0.53</tspan></text>
<text x="109.3" y="759.3" font-family='"Liberation Serif", "Times New Roman", serif' font-size="52" textLength="750.2" lengthAdjust="spacingAndGlyphs" stroke="#000" stroke-width="0.3">A: Effect of transmission rate on the</text>
<text x="109.3" y="828.0" font-family='"Liberation Serif", "Times New Roman", serif' font-size="52" textLength="411.7" lengthAdjust="spacingAndGlyphs" stroke="#000" stroke-width="0.3">exposed individuals</text>
<text x="1112.6" y="798.1" font-family='"Liberation Serif", "Times New Roman", serif' font-size="52" textLength="850.6" lengthAdjust="spacingAndGlyphs" stroke="#000" stroke-width="0.3">B: Effect of transmission rate on the non-</text>
<text x="1112.6" y="866.8" font-family='"Liberation Serif", "Times New Roman", serif' font-size="52" textLength="712.9" lengthAdjust="spacingAndGlyphs" stroke="#000" stroke-width="0.3">inflammatory infected individuals.</text>
<text x="59.2" y="1697.6" font-family='"Liberation Serif", "Times New Roman", serif' font-size="52" textLength="748.5" lengthAdjust="spacingAndGlyphs" stroke="#000" stroke-width="0.3">C: Effect of transmission rate on the</text>
<text x="60.5" y="1766.2" font-family='"Liberation Serif", "Times New Roman", serif' font-size="52" textLength="762.3" lengthAdjust="spacingAndGlyphs" stroke="#000" stroke-width="0.3">inflammatory infected individuals A.</text>
<text x="1112.6" y="1717.0" font-family='"Liberation Serif", "Times New Roman", serif' font-size="52" textLength="750.5" lengthAdjust="spacingAndGlyphs" stroke="#000" stroke-width="0.3">D: Effect of transmission rate on the</text>
<text x="1113.7" y="1784.0" font-family='"Liberation Serif", "Times New Roman", serif' font-size="52" textLength="763.2" lengthAdjust="spacingAndGlyphs" stroke="#000" stroke-width="0.3">inflammatory infected individuals A.</text>
</svg>
</body></html>
